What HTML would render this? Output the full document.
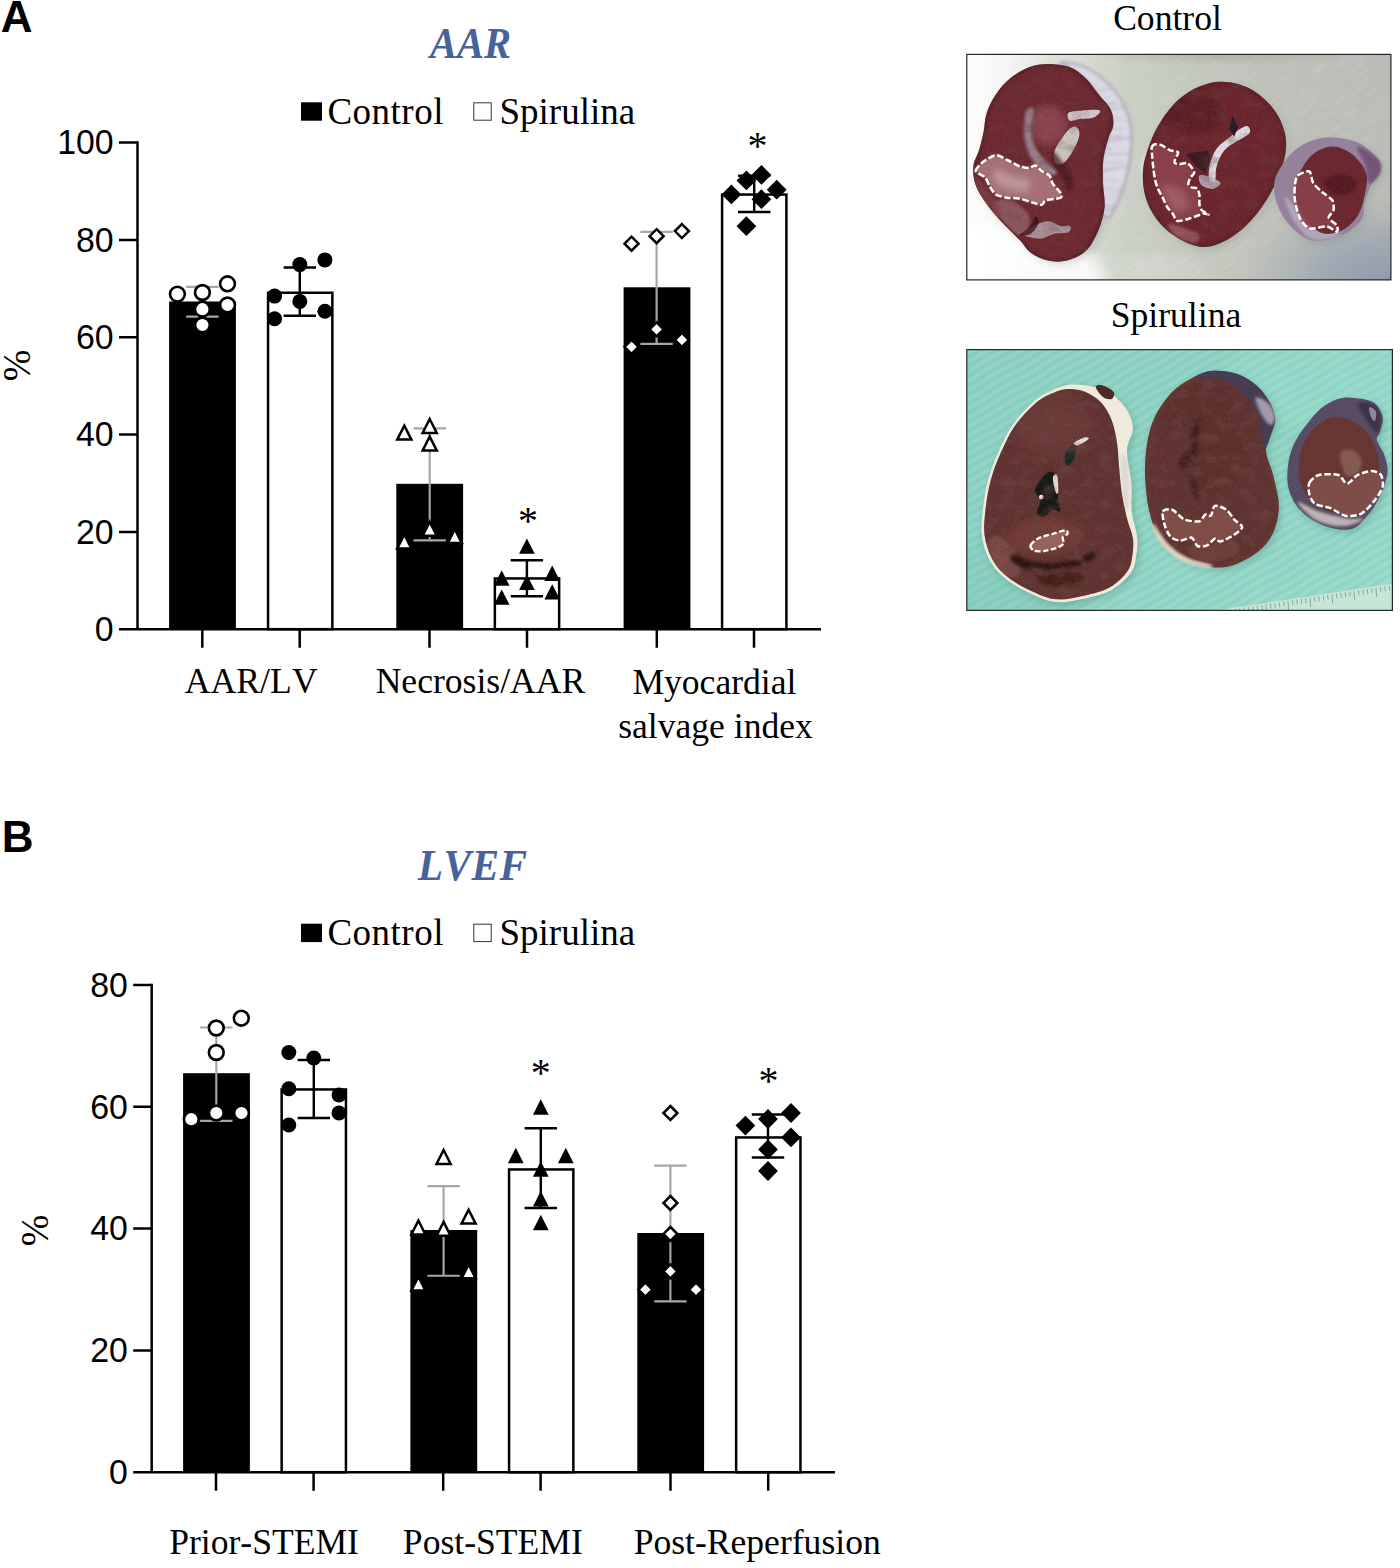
<!DOCTYPE html>
<html><head><meta charset="utf-8"><title>Figure</title>
<style>html,body{margin:0;padding:0;background:#fff}svg{display:block}text{fill:#000;font-kerning:none}</style></head><body>
<svg width="1400" height="1568" viewBox="0 0 1400 1568">
<rect width="1400" height="1568" fill="#fff"/>
<text x="0.7" y="32.2" font-family='"Liberation Sans", sans-serif' font-weight="bold" font-size="44">A</text>
<text x="1.7" y="852.2" font-family='"Liberation Sans", sans-serif' font-weight="bold" font-size="44">B</text>
<text transform="translate(470.5 57.6) scale(1 1.075)" font-family='"Liberation Serif", serif' font-size="40.6" font-weight="bold" font-style="italic" fill="#48639a" style="fill:#48639a" text-anchor="middle" letter-spacing="0">AAR</text>
<rect x="301" y="102.3" width="21" height="18.4" fill="#000"/>
<text x="327.4" y="124" font-family='"Liberation Serif", serif' font-size="37" letter-spacing="0.5">Control</text>
<rect x="473.8" y="102.8" width="17.4" height="17.4" fill="#fff" stroke="#333" stroke-width="1"/>
<text x="499.5" y="124" font-family='"Liberation Serif", serif' font-size="37" letter-spacing="0">Spirulina</text>
<text transform="translate(472.6 880.3) scale(1 1.055)" font-family='"Liberation Serif", serif' font-size="41.4" font-weight="bold" font-style="italic" fill="#48639a" style="fill:#48639a" text-anchor="middle" letter-spacing="0.4">LVEF</text>
<rect x="301" y="923.7" width="21" height="18.4" fill="#000"/>
<text x="327.4" y="945.4" font-family='"Liberation Serif", serif' font-size="37" letter-spacing="0.5">Control</text>
<rect x="473.8" y="924.2" width="17.4" height="17.4" fill="#fff" stroke="#333" stroke-width="1"/>
<text x="499.5" y="945.4" font-family='"Liberation Serif", serif' font-size="37" letter-spacing="0">Spirulina</text>
<text transform="translate(15.3 365.5) rotate(-90) scale(0.925 1)" x="0" y="14.2" font-family='"Liberation Serif", serif' font-size="41" text-anchor="middle">%</text>
<text transform="translate(34 1230.5) rotate(-90) scale(0.925 1)" x="0" y="14.2" font-family='"Liberation Serif", serif' font-size="41" text-anchor="middle">%</text>
<g id="chartA">
<path d="M137.5 141.35V629.2M119 629.2H821" fill="none" stroke="#000" stroke-width="2.5"/>
<path d="M119 531.88H137.5M119 434.56H137.5M119 337.24H137.5M119 239.92H137.5M119 142.6H137.5M202.3 629.2V647.7M299.7 629.2V647.7M429.5 629.2V647.7M527 629.2V647.7M656.8 629.2V647.7M754 629.2V647.7" fill="none" stroke="#000" stroke-width="2.5"/>
<text transform="translate(113.7 640.9) scale(0.94 1)" font-family='"Liberation Sans", sans-serif' font-size="36" text-anchor="end">0</text>
<text transform="translate(113.7 543.58) scale(0.94 1)" font-family='"Liberation Sans", sans-serif' font-size="36" text-anchor="end">20</text>
<text transform="translate(113.7 446.26) scale(0.94 1)" font-family='"Liberation Sans", sans-serif' font-size="36" text-anchor="end">40</text>
<text transform="translate(113.7 348.94) scale(0.94 1)" font-family='"Liberation Sans", sans-serif' font-size="36" text-anchor="end">60</text>
<text transform="translate(113.7 251.62) scale(0.94 1)" font-family='"Liberation Sans", sans-serif' font-size="36" text-anchor="end">80</text>
<text transform="translate(113.7 154.3) scale(0.94 1)" font-family='"Liberation Sans", sans-serif' font-size="36" text-anchor="end">100</text>
<rect x="169.1" y="301.5" width="66.8" height="327.7" fill="#000"/>
<rect x="268.05" y="292.75" width="64.3" height="336.45" fill="#fff" stroke="#000" stroke-width="2.5"/>
<rect x="396.3" y="483.8" width="66.8" height="145.4" fill="#000"/>
<rect x="494.85" y="578.45" width="64.3" height="50.75" fill="#fff" stroke="#000" stroke-width="2.5"/>
<rect x="623.6" y="287.3" width="66.8" height="341.9" fill="#000"/>
<rect x="722.1" y="194.55" width="64.3" height="434.65" fill="#fff" stroke="#000" stroke-width="2.5"/>
<path d="M186.2 286.8H218.6M186.2 316.6H218.6M202.4 286.8V316.6" fill="none" stroke="#a6a6aa" stroke-width="2.15"/>
<path d="M283.6 267.5H316M283.6 315.8H316M299.8 267.5V315.8" fill="none" stroke="#000" stroke-width="2.45"/>
<path d="M413.5 428.4H445.9M413.5 540.3H445.9M429.7 428.4V540.3" fill="none" stroke="#a6a6aa" stroke-width="2.15"/>
<path d="M510.7 560.2H543.1M510.7 596.2H543.1M526.9 560.2V596.2" fill="none" stroke="#000" stroke-width="2.45"/>
<path d="M640.4 231.9H672.8M640.4 343.9H672.8M656.6 231.9V343.9" fill="none" stroke="#a6a6aa" stroke-width="2.15"/>
<path d="M738 175.7H770.4M738 211.9H770.4M754.2 175.7V211.9" fill="none" stroke="#000" stroke-width="2.45"/>
<circle cx="177.4" cy="294.1" r="7.4" fill="#fff" stroke="#000" stroke-width="2.6"/>
<circle cx="202.4" cy="292.5" r="7.4" fill="#fff" stroke="#000" stroke-width="2.6"/>
<circle cx="227.5" cy="283.8" r="7.4" fill="#fff" stroke="#000" stroke-width="2.6"/>
<circle cx="227.5" cy="305" r="7.4" fill="#fff" stroke="#000" stroke-width="2.6"/>
<circle cx="202.4" cy="309.2" r="7.4" fill="#fff" stroke="#000" stroke-width="2.6"/>
<circle cx="202.4" cy="325" r="7.4" fill="#fff" stroke="#000" stroke-width="2.6"/>
<circle cx="299.8" cy="264.6" r="7.5" fill="#000"/>
<circle cx="324.9" cy="259.9" r="7.5" fill="#000"/>
<circle cx="274.6" cy="296.1" r="7.5" fill="#000"/>
<circle cx="299.8" cy="301.4" r="7.5" fill="#000"/>
<circle cx="324.9" cy="311.2" r="7.5" fill="#000"/>
<circle cx="274.6" cy="318.8" r="7.5" fill="#000"/>
<path d="M404.3 425.66 L411.35 439.56 L397.25 439.56 Z" fill="#fff" stroke="#000" stroke-width="2.5" stroke-linejoin="miter" stroke-miterlimit="10"/>
<path d="M429.7 419.01 L436.75 432.91 L422.65 432.91 Z" fill="#fff" stroke="#000" stroke-width="2.5" stroke-linejoin="miter" stroke-miterlimit="10"/>
<path d="M429.7 436.61 L436.75 450.51 L422.65 450.51 Z" fill="#fff" stroke="#000" stroke-width="2.5" stroke-linejoin="miter" stroke-miterlimit="10"/>
<path d="M404.3 534.51 L411.35 548.41 L397.25 548.41 Z" fill="#fff" stroke="#000" stroke-width="2.5" stroke-linejoin="miter" stroke-miterlimit="10"/>
<path d="M429.7 521.81 L436.75 535.71 L422.65 535.71 Z" fill="#fff" stroke="#000" stroke-width="2.5" stroke-linejoin="miter" stroke-miterlimit="10"/>
<path d="M454.8 529.21 L461.85 543.11 L447.75 543.11 Z" fill="#fff" stroke="#000" stroke-width="2.5" stroke-linejoin="miter" stroke-miterlimit="10"/>
<path d="M526.9 538.4 L534.75 553.8 L519.05 553.8 Z" fill="#000"/>
<path d="M501.7 570.35 L509.55 585.75 L493.85 585.75 Z" fill="#000"/>
<path d="M552.2 565.6 L560.05 581 L544.35 581 Z" fill="#000"/>
<path d="M526.9 574.7 L534.75 590.1 L519.05 590.1 Z" fill="#000"/>
<path d="M501.7 589.4 L509.55 604.8 L493.85 604.8 Z" fill="#000"/>
<path d="M552.2 584.2 L560.05 599.6 L544.35 599.6 Z" fill="#000"/>
<path d="M631.5 236.7 L638.5 243.7 L631.5 250.7 L624.5 243.7 Z" fill="#fff" stroke="#000" stroke-width="2.5" stroke-linejoin="miter"/>
<path d="M656.6 229.2 L663.6 236.2 L656.6 243.2 L649.6 236.2 Z" fill="#fff" stroke="#000" stroke-width="2.5" stroke-linejoin="miter"/>
<path d="M681.9 224.1 L688.9 231.1 L681.9 238.1 L674.9 231.1 Z" fill="#fff" stroke="#000" stroke-width="2.5" stroke-linejoin="miter"/>
<path d="M631.5 339.8 L638.5 346.8 L631.5 353.8 L624.5 346.8 Z" fill="#fff" stroke="#000" stroke-width="2.5" stroke-linejoin="miter"/>
<path d="M656.6 322.3 L663.6 329.3 L656.6 336.3 L649.6 329.3 Z" fill="#fff" stroke="#000" stroke-width="2.5" stroke-linejoin="miter"/>
<path d="M681.9 332.8 L688.9 339.8 L681.9 346.8 L674.9 339.8 Z" fill="#fff" stroke="#000" stroke-width="2.5" stroke-linejoin="miter"/>
<path d="M746.4 170.5 L756.3 180.4 L746.4 190.3 L736.5 180.4 Z" fill="#000"/>
<path d="M761.4 165 L771.3 174.9 L761.4 184.8 L751.5 174.9 Z" fill="#000"/>
<path d="M776.7 179.8 L786.6 189.7 L776.7 199.6 L766.8 189.7 Z" fill="#000"/>
<path d="M731.4 184.5 L741.3 194.4 L731.4 204.3 L721.5 194.4 Z" fill="#000"/>
<path d="M761.4 189.3 L771.3 199.2 L761.4 209.1 L751.5 199.2 Z" fill="#000"/>
<path d="M746.4 216.3 L756.3 226.2 L746.4 236.1 L736.5 226.2 Z" fill="#000"/>
<text x="528" y="533.9" font-family='"Liberation Serif", serif' font-size="40" text-anchor="middle">*</text>
<text x="757.6" y="158.9" font-family='"Liberation Serif", serif' font-size="40" text-anchor="middle">*</text>
<text x="251.2" y="693.4" font-family='"Liberation Serif", serif' font-size="35.6" text-anchor="middle" letter-spacing="0.1">AAR/LV</text>
<text x="480.4" y="693.4" font-family='"Liberation Serif", serif' font-size="35.6" text-anchor="middle" letter-spacing="0">Necrosis/AAR</text>
<text x="714.4" y="693.6" font-family='"Liberation Serif", serif' font-size="35.6" text-anchor="middle" letter-spacing="0">Myocardial</text>
<text x="715.5" y="737.8" font-family='"Liberation Serif", serif' font-size="35.6" text-anchor="middle" letter-spacing="0">salvage index</text>
</g>
<g id="chartB">
<path d="M151.7 983.75V1472.2M133.2 1472.2H835" fill="none" stroke="#000" stroke-width="2.5"/>
<path d="M133.2 1350.4H151.7M133.2 1228.6H151.7M133.2 1106.8H151.7M133.2 985H151.7M216 1472.2V1490.7M313.6 1472.2V1490.7M443.2 1472.2V1490.7M540.6 1472.2V1490.7M670.5 1472.2V1490.7M768.2 1472.2V1490.7" fill="none" stroke="#000" stroke-width="2.5"/>
<text transform="translate(127.9 1483.9) scale(0.94 1)" font-family='"Liberation Sans", sans-serif' font-size="36" text-anchor="end">0</text>
<text transform="translate(127.9 1362.1) scale(0.94 1)" font-family='"Liberation Sans", sans-serif' font-size="36" text-anchor="end">20</text>
<text transform="translate(127.9 1240.3) scale(0.94 1)" font-family='"Liberation Sans", sans-serif' font-size="36" text-anchor="end">40</text>
<text transform="translate(127.9 1118.5) scale(0.94 1)" font-family='"Liberation Sans", sans-serif' font-size="36" text-anchor="end">60</text>
<text transform="translate(127.9 996.7) scale(0.94 1)" font-family='"Liberation Sans", sans-serif' font-size="36" text-anchor="end">80</text>
<rect x="183.1" y="1073.2" width="66.8" height="399" fill="#000"/>
<rect x="281.65" y="1089.45" width="64.3" height="382.75" fill="#fff" stroke="#000" stroke-width="2.5"/>
<rect x="410.4" y="1230" width="66.8" height="242.2" fill="#000"/>
<rect x="509.05" y="1169.45" width="64.3" height="302.75" fill="#fff" stroke="#000" stroke-width="2.5"/>
<rect x="637.3" y="1233" width="66.8" height="239.2" fill="#000"/>
<rect x="736.15" y="1137.45" width="64.3" height="334.75" fill="#fff" stroke="#000" stroke-width="2.5"/>
<path d="M200.1 1027.5H232.5M200.1 1120.8H232.5M216.3 1027.5V1120.8" fill="none" stroke="#a6a6aa" stroke-width="2.15"/>
<path d="M297.6 1060H330M297.6 1118H330M313.8 1060V1118" fill="none" stroke="#000" stroke-width="2.45"/>
<path d="M427.4 1186.1H459.8M427.4 1275.7H459.8M443.6 1186.1V1275.7" fill="none" stroke="#a6a6aa" stroke-width="2.15"/>
<path d="M524.6 1128.2H557M524.6 1208H557M540.8 1128.2V1208" fill="none" stroke="#000" stroke-width="2.45"/>
<path d="M654.2 1165.6H686.6M654.2 1301.4H686.6M670.4 1165.6V1301.4" fill="none" stroke="#a6a6aa" stroke-width="2.15"/>
<path d="M751.8 1114.4H784.2M751.8 1157.4H784.2M768 1114.4V1157.4" fill="none" stroke="#000" stroke-width="2.45"/>
<circle cx="216.3" cy="1028" r="7.4" fill="#fff" stroke="#000" stroke-width="2.6"/>
<circle cx="241.3" cy="1018.2" r="7.4" fill="#fff" stroke="#000" stroke-width="2.6"/>
<circle cx="216.3" cy="1052.5" r="7.4" fill="#fff" stroke="#000" stroke-width="2.6"/>
<circle cx="191.3" cy="1119.2" r="7.4" fill="#fff" stroke="#000" stroke-width="2.6"/>
<circle cx="216.3" cy="1113" r="7.4" fill="#fff" stroke="#000" stroke-width="2.6"/>
<circle cx="241.5" cy="1113" r="7.4" fill="#fff" stroke="#000" stroke-width="2.6"/>
<circle cx="288.8" cy="1052.5" r="7.5" fill="#000"/>
<circle cx="313.8" cy="1058" r="7.5" fill="#000"/>
<circle cx="288.8" cy="1088.8" r="7.5" fill="#000"/>
<circle cx="339" cy="1095" r="7.5" fill="#000"/>
<circle cx="339" cy="1113" r="7.5" fill="#000"/>
<circle cx="288.8" cy="1125" r="7.5" fill="#000"/>
<path d="M443.6 1150.01 L450.65 1163.91 L436.55 1163.91 Z" fill="#fff" stroke="#000" stroke-width="2.5" stroke-linejoin="miter" stroke-miterlimit="10"/>
<path d="M468.6 1209.71 L475.65 1223.61 L461.55 1223.61 Z" fill="#fff" stroke="#000" stroke-width="2.5" stroke-linejoin="miter" stroke-miterlimit="10"/>
<path d="M418.4 1220.61 L425.45 1234.51 L411.35 1234.51 Z" fill="#fff" stroke="#000" stroke-width="2.5" stroke-linejoin="miter" stroke-miterlimit="10"/>
<path d="M443.6 1221.91 L450.65 1235.81 L436.55 1235.81 Z" fill="#fff" stroke="#000" stroke-width="2.5" stroke-linejoin="miter" stroke-miterlimit="10"/>
<path d="M468.6 1264.41 L475.65 1278.31 L461.55 1278.31 Z" fill="#fff" stroke="#000" stroke-width="2.5" stroke-linejoin="miter" stroke-miterlimit="10"/>
<path d="M418.4 1276.71 L425.45 1290.61 L411.35 1290.61 Z" fill="#fff" stroke="#000" stroke-width="2.5" stroke-linejoin="miter" stroke-miterlimit="10"/>
<path d="M540.8 1099.3 L548.65 1114.7 L532.95 1114.7 Z" fill="#000"/>
<path d="M515.8 1147.8 L523.65 1163.2 L507.95 1163.2 Z" fill="#000"/>
<path d="M565.8 1147.8 L573.65 1163.2 L557.95 1163.2 Z" fill="#000"/>
<path d="M540.8 1161.3 L548.65 1176.7 L532.95 1176.7 Z" fill="#000"/>
<path d="M540.8 1191.1 L548.65 1206.5 L532.95 1206.5 Z" fill="#000"/>
<path d="M540.8 1214.8 L548.65 1230.2 L532.95 1230.2 Z" fill="#000"/>
<path d="M670.4 1106 L677.4 1113 L670.4 1120 L663.4 1113 Z" fill="#fff" stroke="#000" stroke-width="2.5" stroke-linejoin="miter"/>
<path d="M670.4 1196 L677.4 1203 L670.4 1210 L663.4 1203 Z" fill="#fff" stroke="#000" stroke-width="2.5" stroke-linejoin="miter"/>
<path d="M670.4 1227 L677.4 1234 L670.4 1241 L663.4 1234 Z" fill="#fff" stroke="#000" stroke-width="2.5" stroke-linejoin="miter"/>
<path d="M670.4 1264.4 L677.4 1271.4 L670.4 1278.4 L663.4 1271.4 Z" fill="#fff" stroke="#000" stroke-width="2.5" stroke-linejoin="miter"/>
<path d="M645.4 1282.6 L652.4 1289.6 L645.4 1296.6 L638.4 1289.6 Z" fill="#fff" stroke="#000" stroke-width="2.5" stroke-linejoin="miter"/>
<path d="M696 1282.6 L703 1289.6 L696 1296.6 L689 1289.6 Z" fill="#fff" stroke="#000" stroke-width="2.5" stroke-linejoin="miter"/>
<path d="M745.4 1115.7 L755.3 1125.6 L745.4 1135.5 L735.5 1125.6 Z" fill="#000"/>
<path d="M768 1109.1 L777.9 1119 L768 1128.9 L758.1 1119 Z" fill="#000"/>
<path d="M791 1103.1 L800.9 1113 L791 1122.9 L781.1 1113 Z" fill="#000"/>
<path d="M791 1127.5 L800.9 1137.4 L791 1147.3 L781.1 1137.4 Z" fill="#000"/>
<path d="M768 1139.5 L777.9 1149.4 L768 1159.3 L758.1 1149.4 Z" fill="#000"/>
<path d="M768 1161.1 L777.9 1171 L768 1180.9 L758.1 1171 Z" fill="#000"/>
<text x="540.8" y="1086.4" font-family='"Liberation Serif", serif' font-size="40" text-anchor="middle">*</text>
<text x="768.6" y="1093.9" font-family='"Liberation Serif", serif' font-size="40" text-anchor="middle">*</text>
<text x="264" y="1554.4" font-family='"Liberation Serif", serif' font-size="35.6" text-anchor="middle" letter-spacing="0">Prior-STEMI</text>
<text x="492.8" y="1554.4" font-family='"Liberation Serif", serif' font-size="35.6" text-anchor="middle" letter-spacing="0">Post-STEMI</text>
<text x="757.2" y="1554.4" font-family='"Liberation Serif", serif' font-size="35.6" text-anchor="middle" letter-spacing="0">Post-Reperfusion</text>
</g>
<text x="1167.5" y="30.2" font-family='"Liberation Serif", serif' font-size="35.6" text-anchor="middle" letter-spacing="0">Control</text>
<text x="1176" y="326.8" font-family='"Liberation Serif", serif' font-size="35.6" text-anchor="middle" letter-spacing="0">Spirulina</text>
<defs><clipPath id="cpC"><rect x="966.8" y="54.4" width="424.1" height="225.5"/></clipPath><linearGradient id="cbg" x1="0" y1="0" x2="1" y2="0"><stop offset="0" stop-color="#fdfdfc"/><stop offset="0.09" stop-color="#f6f7f4"/><stop offset="0.2" stop-color="#e0e3dc"/><stop offset="0.38" stop-color="#c9cfc4"/><stop offset="0.7" stop-color="#bec1b9"/><stop offset="1" stop-color="#b9bcb6"/></linearGradient><radialGradient id="cbl" cx="0.5" cy="0.5" r="0.5"><stop offset="0" stop-color="#8a96aa" stop-opacity="1"/><stop offset="0.5" stop-color="#97a1b0" stop-opacity="0.75"/><stop offset="1" stop-color="#a5adb6" stop-opacity="0"/></radialGradient><radialGradient id="chl" cx="0.5" cy="0.5" r="0.5"><stop offset="0" stop-color="#e0e0dc" stop-opacity="0.9"/><stop offset="1" stop-color="#e0e0dc" stop-opacity="0"/></radialGradient><radialGradient id="cdk" cx="0.5" cy="0.5" r="0.5"><stop offset="0" stop-color="#8c8e8a" stop-opacity="0.8"/><stop offset="1" stop-color="#8c8e8a" stop-opacity="0"/></radialGradient><filter id="b1" x="-20%" y="-20%" width="140%" height="140%"><feGaussianBlur stdDeviation="0.7"/></filter><filter id="b2" x="-20%" y="-20%" width="140%" height="140%"><feGaussianBlur stdDeviation="1.6"/></filter><filter id="b4" x="-30%" y="-30%" width="160%" height="160%"><feGaussianBlur stdDeviation="3.5"/></filter><filter id="b8" x="-40%" y="-40%" width="180%" height="180%"><feGaussianBlur stdDeviation="7"/></filter><filter id="nzC" x="0" y="0" width="100%" height="100%"><feTurbulence type="fractalNoise" baseFrequency="0.05 0.35" numOctaves="2" seed="4"/><feColorMatrix type="matrix" values="0 0 0 0 1  0 0 0 0 1  0 0 0 0 0.95  0.9 0 0 0 -0.38"/></filter><filter id="mot" x="0" y="0" width="100%" height="100%"><feTurbulence type="fractalNoise" baseFrequency="0.07 0.09" numOctaves="3" seed="11"/><feColorMatrix type="matrix" values="0 0 0 0 0.16  0 0 0 0 0.06  0 0 0 0 0.06  2.6 0 0 0 -1.15"/></filter><filter id="grain" x="0" y="0" width="100%" height="100%"><feTurbulence type="fractalNoise" baseFrequency="0.9" numOctaves="2" seed="3"/><feColorMatrix type="matrix" values="0 0 0 0 1  0 0 0 0 1  0 0 0 0 1  1.6 0 0 0 -0.75"/></filter><filter id="nzR" x="0" y="0" width="100%" height="100%"><feTurbulence type="fractalNoise" baseFrequency="0.7" numOctaves="2" seed="9"/><feColorMatrix type="matrix" values="0 0 0 0 0  0 0 0 0 0  0 0 0 0 0  0 0 0 1.2 -0.45"/></filter></defs>
<g clip-path="url(#cpC)">
<rect x="966.8" y="54.4" width="424.1" height="225.5" fill="url(#cbg)"/>
<ellipse cx="1392" cy="290" rx="150" ry="95" fill="url(#cbl)"/>
<ellipse cx="985" cy="280" rx="120" ry="55" fill="#fff" opacity="0.85" filter="url(#b8)"/>
<ellipse cx="1150" cy="270" rx="70" ry="25" fill="url(#chl)" opacity="0.5"/>
<ellipse cx="1220" cy="56" rx="130" ry="10" fill="url(#cdk)" opacity="0.45"/>
<rect x="966.8" y="54.4" width="424.1" height="225.5" filter="url(#nzC)" opacity="0.3" transform="rotate(-35 1180 167)"/>
<path d="M1048 64.1C1054.8 64.1 1063.7 64.9 1070 67.3C1076.3 69.6 1081 73.8 1085.7 78.3C1090.4 82.7 1094.1 88.8 1098.3 94C1102.5 99.2 1108.4 104.5 1110.8 109.7C1113.3 114.9 1113.6 120.7 1113.2 125.4C1112.8 130.1 1110.1 132.2 1108.5 138C1106.8 143.8 1104.2 152.4 1103.3 160C1102.4 167.6 1102.8 175.7 1103 183.6C1103.2 191.4 1105.3 199.3 1104.6 207.1C1103.8 215 1101.4 223.4 1098.3 230.7C1095.1 238 1090.9 246.2 1085.7 251.1C1080.5 256.1 1073.1 259 1066.9 260.6C1060.6 262.1 1054 261.9 1048 260.6C1042 259.2 1035.4 256.1 1030.7 252.7C1026 249.3 1024.4 245.1 1019.7 240.1C1015 235.2 1007.9 228.9 1002.4 222.8C996.9 216.8 991.2 210.3 986.7 204C982.3 197.7 977.9 191.4 975.7 185.1C973.5 178.8 972.8 172 973.4 166.3C973.9 160.5 977.2 156.3 978.9 150.6C980.6 144.8 982.3 138 983.6 131.7C984.9 125.4 984.6 119.1 986.7 112.9C988.8 106.6 992.2 99.8 996.1 94C1000.1 88.2 1004.8 82.7 1010.3 78.3C1015.8 73.8 1022.9 69.6 1029.1 67.3C1035.4 64.9 1041.2 64.1 1048 64.1Z" fill="#666" opacity="0.22" filter="url(#b4)" transform="translate(3 3)"/>
<path d="M1060.6 62.6C1061.6 61.7 1073.1 62.8 1079.4 64.9C1085.7 67 1092 70.3 1098.3 75.1C1104.6 80 1112 86.7 1117.1 94C1122.2 101.3 1126.6 110.8 1128.9 119.1C1131.3 127.5 1131.7 134.9 1131.3 144.3C1130.9 153.7 1128.7 166.5 1126.6 175.7C1124.5 184.9 1121.6 192.5 1118.7 199.3C1115.8 206.1 1112.2 215.3 1109.3 216.6C1106.4 217.9 1102.7 216.6 1101.4 207.1C1100.1 197.7 1100.1 173.6 1101.4 160C1102.7 146.4 1110.3 136.9 1109.3 125.4C1108.2 113.9 1101.2 100 1095.1 90.9C1089.1 81.7 1078.9 75.1 1073.1 70.4C1067.4 65.7 1059.5 63.5 1060.6 62.6Z" fill="#dcd9e4" filter="url(#b1)"/>
<clipPath id="cf1"><path d="M1060.6 62.6C1061.6 61.7 1073.1 62.8 1079.4 64.9C1085.7 67 1092 70.3 1098.3 75.1C1104.6 80 1112 86.7 1117.1 94C1122.2 101.3 1126.6 110.8 1128.9 119.1C1131.3 127.5 1131.7 134.9 1131.3 144.3C1130.9 153.7 1128.7 166.5 1126.6 175.7C1124.5 184.9 1121.6 192.5 1118.7 199.3C1115.8 206.1 1112.2 215.3 1109.3 216.6C1106.4 217.9 1102.7 216.6 1101.4 207.1C1100.1 197.7 1100.1 173.6 1101.4 160C1102.7 146.4 1110.3 136.9 1109.3 125.4C1108.2 113.9 1101.2 100 1095.1 90.9C1089.1 81.7 1078.9 75.1 1073.1 70.4C1067.4 65.7 1059.5 63.5 1060.6 62.6Z"/></clipPath>
<g clip-path="url(#cf1)" filter="url(#b2)" opacity="0.5"><path d="M1099.2 90.6l24.4 -4.4" stroke="#8f8aa8" stroke-width="2" opacity="0.5"/><path d="M1096.6 98.3l14.6 -1.5" stroke="#8f8aa8" stroke-width="1.3" opacity="0.4"/><path d="M1100.2 105.9l16 -3.2" stroke="#8f8aa8" stroke-width="2.1" opacity="0.9"/><path d="M1101.8 110.5l29.6 -4.6" stroke="#8f8aa8" stroke-width="2.4" opacity="0.5"/><path d="M1097.4 115.7l18.9 1.5" stroke="#8f8aa8" stroke-width="1.5" opacity="0.6"/><path d="M1102.4 123l22.8 -4.5" stroke="#8f8aa8" stroke-width="1.3" opacity="0.4"/><path d="M1102.8 129.5l19 -0.3" stroke="#8f8aa8" stroke-width="1.8" opacity="0.5"/><path d="M1103.9 136.9l17.9 -0.4" stroke="#8f8aa8" stroke-width="1.9" opacity="0.8"/><path d="M1103.3 141.6l29.7 -4.1" stroke="#8f8aa8" stroke-width="1.8" opacity="0.8"/><path d="M1097.5 148.7l14.6 0.3" stroke="#8f8aa8" stroke-width="2.3" opacity="0.6"/><path d="M1104.8 154.3l25.1 -0.2" stroke="#8f8aa8" stroke-width="2" opacity="0.6"/><path d="M1104.4 163.1l21.6 0.3" stroke="#8f8aa8" stroke-width="1.3" opacity="0.7"/><path d="M1102.5 169.6l27.2 -2.7" stroke="#8f8aa8" stroke-width="1.7" opacity="0.7"/><path d="M1096.2 173.7l16.7 -4.1" stroke="#8f8aa8" stroke-width="1.3" opacity="0.8"/><path d="M1097.3 179.2l20.3 2" stroke="#8f8aa8" stroke-width="1.3" opacity="0.6"/><path d="M1101.5 188l27.1 1.9" stroke="#8f8aa8" stroke-width="1.6" opacity="0.5"/><path d="M1099.6 194.3l29.3 -3.8" stroke="#8f8aa8" stroke-width="1.4" opacity="0.4"/><path d="M1098.3 199l23.4 -2.9" stroke="#8f8aa8" stroke-width="1.2" opacity="0.6"/><path d="M1099.7 205.7l29.2 0.5" stroke="#8f8aa8" stroke-width="1.9" opacity="0.7"/><path d="M1102.8 209.9l28.4 1.2" stroke="#8f8aa8" stroke-width="2.4" opacity="0.8"/></g>
<path d="M1060.6 62.6C1061.6 61.7 1073.1 62.8 1079.4 64.9C1085.7 67 1092 70.3 1098.3 75.1C1104.6 80 1112 86.7 1117.1 94C1122.2 101.3 1126.6 110.8 1128.9 119.1C1131.3 127.5 1131.7 134.9 1131.3 144.3C1130.9 153.7 1128.7 166.5 1126.6 175.7C1124.5 184.9 1121.6 192.5 1118.7 199.3C1115.8 206.1 1112.2 215.3 1109.3 216.6C1106.4 217.9 1102.7 216.6 1101.4 207.1C1100.1 197.7 1100.1 173.6 1101.4 160C1102.7 146.4 1110.3 136.9 1109.3 125.4C1108.2 113.9 1101.2 100 1095.1 90.9C1089.1 81.7 1078.9 75.1 1073.1 70.4C1067.4 65.7 1059.5 63.5 1060.6 62.6Z" fill="none" stroke="#9a92ac" stroke-width="3" opacity="0.5" filter="url(#b2)"/>
<clipPath id="cs1"><path d="M1048 64.1C1054.8 64.1 1063.7 64.9 1070 67.3C1076.3 69.6 1081 73.8 1085.7 78.3C1090.4 82.7 1094.1 88.8 1098.3 94C1102.5 99.2 1108.4 104.5 1110.8 109.7C1113.3 114.9 1113.6 120.7 1113.2 125.4C1112.8 130.1 1110.1 132.2 1108.5 138C1106.8 143.8 1104.2 152.4 1103.3 160C1102.4 167.6 1102.8 175.7 1103 183.6C1103.2 191.4 1105.3 199.3 1104.6 207.1C1103.8 215 1101.4 223.4 1098.3 230.7C1095.1 238 1090.9 246.2 1085.7 251.1C1080.5 256.1 1073.1 259 1066.9 260.6C1060.6 262.1 1054 261.9 1048 260.6C1042 259.2 1035.4 256.1 1030.7 252.7C1026 249.3 1024.4 245.1 1019.7 240.1C1015 235.2 1007.9 228.9 1002.4 222.8C996.9 216.8 991.2 210.3 986.7 204C982.3 197.7 977.9 191.4 975.7 185.1C973.5 178.8 972.8 172 973.4 166.3C973.9 160.5 977.2 156.3 978.9 150.6C980.6 144.8 982.3 138 983.6 131.7C984.9 125.4 984.6 119.1 986.7 112.9C988.8 106.6 992.2 99.8 996.1 94C1000.1 88.2 1004.8 82.7 1010.3 78.3C1015.8 73.8 1022.9 69.6 1029.1 67.3C1035.4 64.9 1041.2 64.1 1048 64.1Z"/></clipPath>
<path d="M1048 64.1C1054.8 64.1 1063.7 64.9 1070 67.3C1076.3 69.6 1081 73.8 1085.7 78.3C1090.4 82.7 1094.1 88.8 1098.3 94C1102.5 99.2 1108.4 104.5 1110.8 109.7C1113.3 114.9 1113.6 120.7 1113.2 125.4C1112.8 130.1 1110.1 132.2 1108.5 138C1106.8 143.8 1104.2 152.4 1103.3 160C1102.4 167.6 1102.8 175.7 1103 183.6C1103.2 191.4 1105.3 199.3 1104.6 207.1C1103.8 215 1101.4 223.4 1098.3 230.7C1095.1 238 1090.9 246.2 1085.7 251.1C1080.5 256.1 1073.1 259 1066.9 260.6C1060.6 262.1 1054 261.9 1048 260.6C1042 259.2 1035.4 256.1 1030.7 252.7C1026 249.3 1024.4 245.1 1019.7 240.1C1015 235.2 1007.9 228.9 1002.4 222.8C996.9 216.8 991.2 210.3 986.7 204C982.3 197.7 977.9 191.4 975.7 185.1C973.5 178.8 972.8 172 973.4 166.3C973.9 160.5 977.2 156.3 978.9 150.6C980.6 144.8 982.3 138 983.6 131.7C984.9 125.4 984.6 119.1 986.7 112.9C988.8 106.6 992.2 99.8 996.1 94C1000.1 88.2 1004.8 82.7 1010.3 78.3C1015.8 73.8 1022.9 69.6 1029.1 67.3C1035.4 64.9 1041.2 64.1 1048 64.1Z" fill="#6f2a30" filter="url(#b1)"/>
<g clip-path="url(#cs1)">
<path d="M1048 64.1C1054.8 64.1 1063.7 64.9 1070 67.3C1076.3 69.6 1081 73.8 1085.7 78.3C1090.4 82.7 1094.1 88.8 1098.3 94C1102.5 99.2 1108.4 104.5 1110.8 109.7C1113.3 114.9 1113.6 120.7 1113.2 125.4C1112.8 130.1 1110.1 132.2 1108.5 138C1106.8 143.8 1104.2 152.4 1103.3 160C1102.4 167.6 1102.8 175.7 1103 183.6C1103.2 191.4 1105.3 199.3 1104.6 207.1C1103.8 215 1101.4 223.4 1098.3 230.7C1095.1 238 1090.9 246.2 1085.7 251.1C1080.5 256.1 1073.1 259 1066.9 260.6C1060.6 262.1 1054 261.9 1048 260.6C1042 259.2 1035.4 256.1 1030.7 252.7C1026 249.3 1024.4 245.1 1019.7 240.1C1015 235.2 1007.9 228.9 1002.4 222.8C996.9 216.8 991.2 210.3 986.7 204C982.3 197.7 977.9 191.4 975.7 185.1C973.5 178.8 972.8 172 973.4 166.3C973.9 160.5 977.2 156.3 978.9 150.6C980.6 144.8 982.3 138 983.6 131.7C984.9 125.4 984.6 119.1 986.7 112.9C988.8 106.6 992.2 99.8 996.1 94C1000.1 88.2 1004.8 82.7 1010.3 78.3C1015.8 73.8 1022.9 69.6 1029.1 67.3C1035.4 64.9 1041.2 64.1 1048 64.1Z" fill="none" stroke="#4a1a20" stroke-width="6" opacity="0.5" filter="url(#b2)"/>
<ellipse cx="1048" cy="125.4" rx="19" ry="20" fill="#96505a" opacity="0.8" filter="url(#b4)"/>
<path d="M1026 111.3C1027.6 106.6 1033.1 106.8 1033.9 109.7C1034.6 112.6 1030.4 122.3 1030.7 128.6C1031 134.9 1032.5 141.7 1035.4 147.4C1038.3 153.2 1044.3 158.9 1048 163.1C1051.7 167.3 1057.4 170.7 1057.4 172.6C1057.4 174.4 1052.2 176.2 1048 174.1C1043.8 172 1036.2 166 1032.3 160C1028.4 154 1025.5 146.1 1024.4 138C1023.4 129.9 1024.4 116 1026 111.3Z" fill="#a497a3" opacity="0.8" filter="url(#b2)"/>
<path d="M1076.3 127C1077.9 128 1079.9 130.9 1079.4 134.9C1078.9 138.8 1075.8 145.9 1073.1 150.6C1070.5 155.3 1066.6 161 1063.7 163.1C1060.8 165.2 1057.4 165 1055.9 163.1C1054.3 161.3 1053.2 156.3 1054.3 152.1C1055.3 147.9 1059.5 141.9 1062.1 138C1064.8 134.1 1067.6 130.4 1070 128.6C1072.4 126.7 1074.7 125.9 1076.3 127Z" fill="#cfc8c3" filter="url(#b1)"/>
<path d="M1068.4 112.9C1070.5 111.2 1077.3 110.9 1082.6 110.5C1087.8 110.1 1098 109.3 1099.8 110.5C1101.7 111.7 1097 116.1 1093.6 117.6C1090.2 119 1083.4 118.6 1079.4 119.1C1075.5 119.7 1071.8 121.8 1070 120.7C1068.2 119.7 1066.3 114.6 1068.4 112.9Z" fill="#e3dde3" filter="url(#b1)" opacity="0.9"/>
<path d="M1054.3 152.1C1055.9 152.1 1057.9 157.1 1060.6 160C1063.2 162.9 1067.9 165.2 1070 169.4C1072.1 173.6 1073.4 181.5 1073.1 185.1C1072.9 188.8 1070.5 193 1068.4 191.4C1066.3 189.8 1063.4 180.9 1060.6 175.7C1057.7 170.5 1052.2 163.9 1051.1 160C1050.1 156.1 1052.7 152.1 1054.3 152.1Z" fill="#48161c" opacity="0.7" filter="url(#b2)"/>
<path d="M996.1 200.8C999 199.3 1006.6 198.8 1011.9 200.8C1017.1 202.9 1024.7 209.2 1027.6 213.4C1030.4 217.6 1030.4 222.3 1029.1 226C1027.8 229.7 1023.6 235.7 1019.7 235.4C1015.8 235.2 1009.8 228.6 1005.6 224.4C1001.4 220.2 996.1 214.2 994.6 210.3C993 206.3 993.3 202.4 996.1 200.8Z" fill="#96606a" opacity="0.85" filter="url(#b2)"/>
<path d="M1022.9 233.8C1023.6 232 1029.7 228.1 1033.9 226C1038 223.9 1043.5 221.3 1048 221.3C1052.4 221.3 1056.9 225.2 1060.6 226C1064.2 226.8 1068.7 224.9 1070 226C1071.3 227 1071 231 1068.4 232.3C1065.8 233.6 1058.7 232.8 1054.3 233.8C1049.8 234.9 1045.9 238 1041.7 238.6C1037.5 239.1 1032.3 237.8 1029.1 237C1026 236.2 1022.1 235.7 1022.9 233.8Z" fill="#b9a3b0" opacity="0.9" filter="url(#b1)"/>
<path d="M1019.7 235.4C1019.4 234.4 1026.5 230.7 1029.1 227.6C1031.8 224.4 1033.9 217.3 1035.4 216.6C1037 215.8 1039.4 220 1038.6 222.8C1037.8 225.7 1033.9 231.8 1030.7 233.8C1027.6 235.9 1020 236.5 1019.7 235.4Z" fill="#3c0c12" opacity="0.8" filter="url(#b1)"/>
<path d="M975.7 175.7C977.9 176.5 984.1 185.9 988.3 191.4C992.5 196.9 999.5 204.5 1000.9 208.7C1002.2 212.9 999 217.9 996.1 216.6C993.3 215.3 987.1 205.8 983.6 200.8C980 195.9 976.2 190.9 974.9 186.7C973.6 182.5 973.5 174.9 975.7 175.7Z" fill="#85434c" opacity="0.7" filter="url(#b2)"/>
<rect x="970" y="58" width="165" height="210" filter="url(#mot)" opacity="0.35"/>
<rect x="970" y="58" width="165" height="210" filter="url(#nzR)" opacity="0.22"/>
</g>
<path d="M975.7 171C975.5 168.4 980.2 164.2 983.6 161.6C987 158.9 992.2 155.5 996.1 155.3C1000.1 155 1003.2 158.2 1007.1 160C1011.1 161.8 1016 165 1019.7 166.3C1023.4 167.6 1026.5 168 1029.1 167.9C1031.8 167.7 1033.3 165 1035.4 165.5C1037.5 166 1039.4 169.3 1041.7 171C1044.1 172.7 1047.7 173.6 1049.6 175.7C1051.4 177.8 1050.9 180.7 1052.7 183.6C1054.5 186.4 1059.3 190.6 1060.6 193C1061.9 195.3 1062.1 196.7 1060.6 197.7C1059 198.8 1053.8 198.8 1051.1 199.3C1048.5 199.8 1046.4 199.9 1044.9 200.8C1043.3 201.8 1043.8 204.5 1041.7 204.8C1039.6 205 1035.9 203.5 1032.3 202.4C1028.6 201.4 1023.9 199.3 1019.7 198.5C1015.5 197.7 1011.1 198.4 1007.1 197.7C1003.2 197.1 999 196.4 996.1 194.6C993.3 192.7 991.7 189.6 989.9 186.7C988 183.8 987.5 179.9 985.1 177.3C982.8 174.7 976 173.6 975.7 171Z" fill="#a87378" opacity="0.95" filter="url(#b2)"/>
<path d="M996.1 169.4C999 168.6 1006.4 173.9 1011.9 175.7C1017.4 177.5 1026.8 177.8 1029.1 180.4C1031.5 183 1029.7 190.1 1026 191.4C1022.3 192.7 1012.4 190.1 1007.1 188.3C1001.9 186.4 996.4 183.6 994.6 180.4C992.7 177.3 993.3 170.2 996.1 169.4Z" fill="#c4a0a2" opacity="0.8" filter="url(#b4)"/>
<path d="M975.7 171C975.5 168.9 980.8 163.7 983.6 161.6C986.3 159.5 993 155.5 996.1 155.3C999.3 155.1 1004 158.5 1007.1 160C1010.3 161.5 1016.8 165.2 1019.7 166.3C1022.6 167.3 1027 168 1029.1 167.9C1031.2 167.7 1033.7 165.1 1035.4 165.5C1037.1 165.9 1039.8 169.6 1041.7 171C1043.6 172.4 1048.1 174 1049.6 175.7C1051 177.4 1051.2 181.3 1052.7 183.6C1054.2 185.9 1059.5 191.1 1060.6 193C1061.6 194.9 1061.8 196.9 1060.6 197.7C1059.3 198.5 1053.2 198.9 1051.1 199.3C1049 199.7 1046.1 200.1 1044.9 200.8C1043.6 201.6 1043.4 204.6 1041.7 204.8C1040 205 1035.2 203.3 1032.3 202.4C1029.3 201.6 1023.1 199.1 1019.7 198.5C1016.4 197.9 1010.3 198.2 1007.1 197.7C1004 197.2 998.4 196 996.1 194.6C993.8 193.1 991.3 189 989.9 186.7C988.4 184.4 987 179.4 985.1 177.3C983.3 175.2 975.9 173.1 975.7 171Z" fill="none" stroke="#fff" stroke-width="2.5" stroke-dasharray="6.6 2.6" stroke-linejoin="round"/>
<path d="M1222.6 81.8C1230.9 82.1 1241.2 84.2 1249.6 88.6C1257.9 92.9 1266.9 100.8 1272.7 107.9C1278.5 114.9 1282.2 123.3 1284.3 131C1286.4 138.7 1286.5 145.8 1285.3 154.1C1284 162.5 1280.6 172.1 1276.6 181.1C1272.6 190.1 1266.9 200.1 1261.1 208.1C1255.4 216.2 1248.6 223.6 1241.9 229.4C1235.1 235.1 1227.7 240 1220.6 242.9C1213.6 245.8 1206.8 247.7 1199.4 246.7C1192 245.8 1183.4 241.6 1176.3 237.1C1169.2 232.6 1162.1 226.5 1157 219.7C1151.9 213 1147.7 204.9 1145.4 196.6C1143.1 188.2 1142.3 178.6 1143.1 169.6C1143.9 160.6 1147.3 150.6 1150.3 142.6C1153.2 134.5 1156.2 128.4 1160.9 121.4C1165.5 114.3 1171.8 105.9 1178.2 100.1C1184.6 94.4 1192 89.7 1199.4 86.6C1206.8 83.6 1214.2 81.5 1222.6 81.8Z" fill="#666" opacity="0.2" filter="url(#b4)" transform="translate(2 3)"/>
<path d="M1141.6 158C1143.3 153.5 1149.3 145.8 1151.2 150.3C1153.1 154.8 1153.8 177.9 1153.1 185C1152.5 192.1 1149.4 194 1147.4 192.7C1145.3 191.4 1141.6 183.1 1140.6 177.3C1139.6 171.5 1139.8 162.5 1141.6 158Z" fill="#d9d4dc" filter="url(#b2)"/>
<clipPath id="cs2"><path d="M1222.6 81.8C1230.9 82.1 1241.2 84.2 1249.6 88.6C1257.9 92.9 1266.9 100.8 1272.7 107.9C1278.5 114.9 1282.2 123.3 1284.3 131C1286.4 138.7 1286.5 145.8 1285.3 154.1C1284 162.5 1280.6 172.1 1276.6 181.1C1272.6 190.1 1266.9 200.1 1261.1 208.1C1255.4 216.2 1248.6 223.6 1241.9 229.4C1235.1 235.1 1227.7 240 1220.6 242.9C1213.6 245.8 1206.8 247.7 1199.4 246.7C1192 245.8 1183.4 241.6 1176.3 237.1C1169.2 232.6 1162.1 226.5 1157 219.7C1151.9 213 1147.7 204.9 1145.4 196.6C1143.1 188.2 1142.3 178.6 1143.1 169.6C1143.9 160.6 1147.3 150.6 1150.3 142.6C1153.2 134.5 1156.2 128.4 1160.9 121.4C1165.5 114.3 1171.8 105.9 1178.2 100.1C1184.6 94.4 1192 89.7 1199.4 86.6C1206.8 83.6 1214.2 81.5 1222.6 81.8Z"/></clipPath>
<path d="M1222.6 81.8C1230.9 82.1 1241.2 84.2 1249.6 88.6C1257.9 92.9 1266.9 100.8 1272.7 107.9C1278.5 114.9 1282.2 123.3 1284.3 131C1286.4 138.7 1286.5 145.8 1285.3 154.1C1284 162.5 1280.6 172.1 1276.6 181.1C1272.6 190.1 1266.9 200.1 1261.1 208.1C1255.4 216.2 1248.6 223.6 1241.9 229.4C1235.1 235.1 1227.7 240 1220.6 242.9C1213.6 245.8 1206.8 247.7 1199.4 246.7C1192 245.8 1183.4 241.6 1176.3 237.1C1169.2 232.6 1162.1 226.5 1157 219.7C1151.9 213 1147.7 204.9 1145.4 196.6C1143.1 188.2 1142.3 178.6 1143.1 169.6C1143.9 160.6 1147.3 150.6 1150.3 142.6C1153.2 134.5 1156.2 128.4 1160.9 121.4C1165.5 114.3 1171.8 105.9 1178.2 100.1C1184.6 94.4 1192 89.7 1199.4 86.6C1206.8 83.6 1214.2 81.5 1222.6 81.8Z" fill="#6e282e" filter="url(#b1)"/>
<g clip-path="url(#cs2)">
<path d="M1222.6 81.8C1230.9 82.1 1241.2 84.2 1249.6 88.6C1257.9 92.9 1266.9 100.8 1272.7 107.9C1278.5 114.9 1282.2 123.3 1284.3 131C1286.4 138.7 1286.5 145.8 1285.3 154.1C1284 162.5 1280.6 172.1 1276.6 181.1C1272.6 190.1 1266.9 200.1 1261.1 208.1C1255.4 216.2 1248.6 223.6 1241.9 229.4C1235.1 235.1 1227.7 240 1220.6 242.9C1213.6 245.8 1206.8 247.7 1199.4 246.7C1192 245.8 1183.4 241.6 1176.3 237.1C1169.2 232.6 1162.1 226.5 1157 219.7C1151.9 213 1147.7 204.9 1145.4 196.6C1143.1 188.2 1142.3 178.6 1143.1 169.6C1143.9 160.6 1147.3 150.6 1150.3 142.6C1153.2 134.5 1156.2 128.4 1160.9 121.4C1165.5 114.3 1171.8 105.9 1178.2 100.1C1184.6 94.4 1192 89.7 1199.4 86.6C1206.8 83.6 1214.2 81.5 1222.6 81.8Z" fill="none" stroke="#4a1a20" stroke-width="5" opacity="0.45" filter="url(#b2)"/>
<ellipse cx="1193.6" cy="113.6" rx="30" ry="20" fill="#571c22" opacity="0.6" filter="url(#b4)"/>
<path d="M1247.6 126.2C1249.3 126.8 1251.2 130.5 1249.6 132.9C1248 135.3 1242.2 137.8 1238 140.6C1233.8 143.5 1228 146.1 1224.5 150.3C1221 154.5 1218.4 160.6 1216.8 165.7C1215.2 170.9 1216.1 178.9 1214.9 181.1C1213.6 183.4 1209.9 182.1 1209.1 179.2C1208.3 176.3 1208.8 168.9 1210 163.8C1211.3 158.6 1213.4 152.9 1216.8 148.4C1220.2 143.9 1226.4 140 1230.3 136.8C1234.1 133.6 1237 130.8 1239.9 129.1C1242.8 127.3 1246 125.5 1247.6 126.2Z" fill="#e6dfe6" filter="url(#b1)"/>
<path d="M1232.2 115.6L1238 127.1L1234.1 136.8L1229.3 129.1Z" fill="#2a1a22" filter="url(#b1)"/>
<path d="M1185.9 154.1L1207.1 150.3L1211 158L1205.2 173.4L1195.6 165.7Z" fill="#3a1a20" filter="url(#b1)"/>
<path d="M1199.4 175.4C1201 174.1 1207.5 176 1211 177.3C1214.5 178.6 1220.3 181.1 1220.6 183.1C1221 185 1216.1 188.5 1212.9 188.9C1209.7 189.2 1203.6 187.3 1201.4 185C1199.1 182.8 1197.8 176.6 1199.4 175.4Z" fill="#c9bfd0" opacity="0.8" filter="url(#b1)"/>
<path d="M1168.6 223.6C1170.8 222.6 1182.7 227.4 1187.9 229.4C1193 231.3 1198.5 232.9 1199.4 235.1C1200.4 237.4 1197.8 242.9 1193.6 242.9C1189.5 242.9 1178.5 238.4 1174.4 235.1C1170.2 231.9 1166.3 224.5 1168.6 223.6Z" fill="#a8666e" opacity="0.75" filter="url(#b2)"/>
<rect x="1140" y="78" width="150" height="175" filter="url(#mot)" opacity="0.35"/>
<rect x="1140" y="78" width="150" height="175" filter="url(#nzR)" opacity="0.22"/>
</g>
<path d="M1151.7 147.5C1152.2 145.3 1153.6 144.7 1155.2 144.3C1156.8 143.9 1159 144.2 1161.5 145.2C1164 146.2 1167.3 149.1 1170.1 150.3C1172.9 151.5 1177.2 150.9 1178.1 152.3C1179 153.7 1175.9 157.1 1175.3 158.9C1174.7 160.7 1174 162.1 1174.7 163C1175.5 163.9 1177.8 164.1 1179.8 164.1C1181.8 164.1 1184.8 162.5 1186.7 163C1188.6 163.5 1190 165.4 1191.3 167C1192.5 168.6 1194.4 170.9 1194.2 172.7C1194 174.5 1191.2 176 1190.2 177.9C1189.2 179.8 1188.1 182.6 1188.3 184.2C1188.5 185.8 1190 186.8 1191.5 187.5C1193 188.2 1195.8 187.3 1197.1 188.6C1198.4 189.9 1199 192.5 1199.4 195.1C1199.8 197.7 1199 201.8 1199.4 204.3C1199.8 206.8 1200.1 208.3 1201.6 210C1203.1 211.7 1208.2 213.8 1208.5 214.4C1208.8 215 1205.3 213.3 1203.4 213.5C1201.5 213.7 1199.8 214.9 1197.1 215.8C1194.4 216.8 1190.6 218.3 1187.3 219.2C1184 220 1179.4 221.8 1177 220.9C1174.6 220 1174.6 216.3 1173 214C1171.4 211.7 1168.9 209.9 1167.2 207.1C1165.5 204.3 1164.1 200.4 1162.6 197.4C1161.1 194.4 1159.2 191.7 1158 188.8C1156.8 185.9 1156 183.5 1155.2 180.2C1154.4 176.8 1153.9 172.5 1153.4 168.7C1152.9 164.9 1152.6 160.7 1152.3 157.2C1152 153.7 1151.2 149.7 1151.7 147.5Z" fill="#8c4249" opacity="0.9" filter="url(#b2)"/>
<path d="M1162.8 185C1165 183.1 1175.6 185.6 1180.1 188.9C1184.6 192.1 1190.1 200.4 1189.8 204.3C1189.5 208.1 1182.1 212.6 1178.2 212C1174.4 211.4 1169.2 204.9 1166.6 200.4C1164.1 195.9 1160.5 186.9 1162.8 185Z" fill="#a8686e" opacity="0.7" filter="url(#b4)"/>
<path d="M1151.7 147.5C1152.1 145.8 1153.9 144.6 1155.2 144.3C1156.5 144 1159.5 144.4 1161.5 145.2C1163.5 146 1167.9 149.4 1170.1 150.3C1172.3 151.2 1177.4 151.2 1178.1 152.3C1178.8 153.4 1175.8 157.5 1175.3 158.9C1174.8 160.3 1174.1 162.3 1174.7 163C1175.3 163.7 1178.2 164.1 1179.8 164.1C1181.4 164.1 1185.2 162.6 1186.7 163C1188.2 163.4 1190.3 165.7 1191.3 167C1192.3 168.3 1194.3 171.2 1194.2 172.7C1194.1 174.2 1191 176.4 1190.2 177.9C1189.4 179.4 1188.1 182.9 1188.3 184.2C1188.5 185.5 1190.3 186.9 1191.5 187.5C1192.7 188.1 1196 187.6 1197.1 188.6C1198.2 189.6 1199.1 193 1199.4 195.1C1199.7 197.2 1199.1 202.3 1199.4 204.3C1199.7 206.3 1200.4 208.7 1201.6 210C1202.8 211.3 1208.3 213.9 1208.5 214.4C1208.7 214.9 1204.9 213.3 1203.4 213.5C1201.9 213.7 1199.2 215 1197.1 215.8C1195 216.6 1190 218.5 1187.3 219.2C1184.6 219.9 1178.9 221.6 1177 220.9C1175.1 220.2 1174.3 215.8 1173 214C1171.7 212.2 1168.6 209.3 1167.2 207.1C1165.8 204.9 1163.8 199.8 1162.6 197.4C1161.4 195 1159 191.1 1158 188.8C1157 186.5 1155.8 182.9 1155.2 180.2C1154.6 177.5 1153.8 171.8 1153.4 168.7C1153 165.6 1152.5 160 1152.3 157.2C1152.1 154.4 1151.3 149.2 1151.7 147.5Z" fill="none" stroke="#fff" stroke-width="2.5" stroke-dasharray="6.6 2.6" stroke-linejoin="round"/>
<path d="M1322.9 137.8C1330.3 136.5 1337.7 137.6 1344.1 138.7C1350.5 139.8 1355.7 141 1361.4 144.5C1367.2 148 1375.7 155.1 1378.8 159.9C1381.8 164.8 1381 169.3 1379.8 173.4C1378.5 177.6 1373.7 179.9 1371.1 185C1368.5 190.1 1365.9 198.5 1364.3 204.3C1362.7 210.1 1365.1 214.6 1361.4 219.7C1357.7 224.9 1350.2 231.6 1342.2 235.1C1334.1 238.7 1321.9 242.5 1313.2 240.9C1304.5 239.3 1296.2 231.9 1290.1 225.5C1284 219.1 1279.1 209.8 1276.6 202.4C1274 195 1273.4 187.9 1274.6 181.1C1275.9 174.4 1280.1 167.6 1284.3 161.9C1288.5 156.1 1293.3 150.5 1299.7 146.4C1306.1 142.4 1315.5 139 1322.9 137.8Z" fill="#666" opacity="0.2" filter="url(#b4)" transform="translate(2 3)"/>
<path d="M1322.9 137.8C1330.3 136.5 1337.7 137.6 1344.1 138.7C1350.5 139.8 1355.7 141 1361.4 144.5C1367.2 148 1375.7 155.1 1378.8 159.9C1381.8 164.8 1381 169.3 1379.8 173.4C1378.5 177.6 1373.7 179.9 1371.1 185C1368.5 190.1 1365.9 198.5 1364.3 204.3C1362.7 210.1 1365.1 214.6 1361.4 219.7C1357.7 224.9 1350.2 231.6 1342.2 235.1C1334.1 238.7 1321.9 242.5 1313.2 240.9C1304.5 239.3 1296.2 231.9 1290.1 225.5C1284 219.1 1279.1 209.8 1276.6 202.4C1274 195 1273.4 187.9 1274.6 181.1C1275.9 174.4 1280.1 167.6 1284.3 161.9C1288.5 156.1 1293.3 150.5 1299.7 146.4C1306.1 142.4 1315.5 139 1322.9 137.8Z" fill="#94809a" filter="url(#b1)"/>
<path d="M1357.6 146.4C1359.8 145.5 1375.1 155.4 1378.8 159.9C1382.5 164.4 1381.4 169.6 1379.8 173.4C1378.2 177.3 1371.6 184.4 1369.2 183.1C1366.7 181.8 1367.2 171.8 1365.3 165.7C1363.4 159.6 1355.3 147.4 1357.6 146.4Z" fill="#6a4a6e" opacity="0.8" filter="url(#b2)"/>
<path d="M1284.3 196.6C1283 197.9 1290.7 216.3 1295.9 223.6C1301 230.8 1307.4 238.2 1315.1 240C1322.9 241.7 1340.9 236 1342.2 234.2C1343.4 232.4 1329.3 232.4 1322.9 229.4C1316.4 226.3 1310 221.3 1303.6 215.9C1297.1 210.4 1285.6 195.3 1284.3 196.6Z" fill="#b9afc0" opacity="0.8" filter="url(#b2)"/>
<path d="M1332.5 146.4C1338.9 146.4 1346.2 149.6 1351.8 154.1C1357.4 158.6 1364.2 166.4 1366.3 173.4C1368.3 180.5 1365.8 189.5 1364.3 196.6C1362.9 203.6 1361.3 210.2 1357.6 215.9C1353.9 221.5 1347.9 227.4 1342.2 230.3C1336.4 233.2 1329 235 1322.9 233.2C1316.8 231.5 1310 225.5 1305.5 219.7C1301 213.9 1296.8 206.2 1295.9 198.5C1294.9 190.8 1296.8 180.8 1299.7 173.4C1302.6 166 1307.8 158.6 1313.2 154.1C1318.7 149.6 1326.1 146.4 1332.5 146.4Z" fill="#6a262d" filter="url(#b1)"/>
<path d="M1322.9 181.1C1324.1 177.6 1336.4 173.4 1342.2 173.4C1347.9 173.4 1356 177.9 1357.6 181.1C1359.2 184.4 1355.7 190.5 1351.8 192.7C1347.9 195 1339.3 196.6 1334.4 194.6C1329.6 192.7 1321.6 184.7 1322.9 181.1Z" fill="#4e181f" opacity="0.7" filter="url(#b2)"/>
<path d="M1297.8 175.4C1300.2 173.1 1306.8 170.2 1309.4 171.5C1311.9 172.8 1311 179.5 1313.2 183.1C1315.5 186.6 1319.6 189.8 1322.9 192.7C1326.1 195.6 1330.7 197.5 1332.5 200.4C1334.3 203.3 1334.1 207.2 1333.5 210.1C1332.8 213 1328.1 215.2 1328.6 217.8C1329.2 220.4 1335.4 223.2 1336.8 225.5C1338.1 227.8 1338.4 231.5 1336.8 231.7C1335.1 231.8 1331.3 227 1326.7 226.5C1322.2 225.9 1313.9 229.8 1309.4 228.4C1304.9 227 1302.1 222.5 1299.7 217.8C1297.3 213.1 1295.7 205.9 1294.9 200.4C1294.1 195 1294.4 189.2 1294.9 185C1295.4 180.8 1295.4 177.6 1297.8 175.4Z" fill="#8a3f48" opacity="0.9" filter="url(#b2)"/>
<path d="M1297.8 175.4C1299.7 173.6 1307.3 170.5 1309.4 171.5C1311.4 172.5 1311.4 180.2 1313.2 183.1C1315 185.9 1320.3 190.4 1322.9 192.7C1325.4 195 1331.1 198.1 1332.5 200.4C1333.9 202.7 1334 207.8 1333.5 210.1C1333 212.4 1328.2 215.7 1328.6 217.8C1329.1 219.8 1335.7 223.7 1336.8 225.5C1337.8 227.4 1338.1 231.5 1336.8 231.7C1335.4 231.8 1330.4 226.9 1326.7 226.5C1323.1 226 1313 229.6 1309.4 228.4C1305.8 227.2 1301.6 221.5 1299.7 217.8C1297.8 214.1 1295.5 204.8 1294.9 200.4C1294.3 196.1 1294.5 188.3 1294.9 185C1295.3 181.7 1295.9 177.2 1297.8 175.4Z" fill="none" stroke="#fff" stroke-width="2.5" stroke-dasharray="6.6 2.6" stroke-linejoin="round"/>
<rect x="966.8" y="54.4" width="424.1" height="225.5" filter="url(#grain)" opacity="0.10"/>
</g>
<rect x="966.8" y="54.4" width="424.1" height="225.5" fill="none" stroke="#262626" stroke-width="1.2"/>
<defs><clipPath id="cpS"><rect x="966.8" y="349.6" width="425.6" height="260.8"/></clipPath><linearGradient id="sbg" x1="0" y1="0" x2="1" y2="1"><stop offset="0" stop-color="#8acfc0"/><stop offset="0.5" stop-color="#8dd2c3"/><stop offset="1" stop-color="#97dacb"/></linearGradient><pattern id="stripe" width="60" height="8" patternUnits="userSpaceOnUse" patternTransform="rotate(-30)"><path d="M0 1.5 Q15 0 30 1.5 T60 1.5" fill="none" stroke="#6fb5a5" stroke-width="2.4" opacity="0.3"/><path d="M0 5.6 Q15 4.4 30 5.6 T60 5.6" fill="none" stroke="#b8efe0" stroke-width="2.4" opacity="0.3"/></pattern></defs>
<g clip-path="url(#cpS)">
<rect x="966.8" y="349.6" width="425.6" height="260.8" fill="url(#sbg)"/>
<rect x="966.8" y="349.6" width="425.6" height="260.8" fill="url(#stripe)" filter="url(#b2)"/>
<ellipse cx="1000" cy="590" rx="90" ry="50" fill="#7cc3b2" opacity="0.3" filter="url(#b8)"/>
<ellipse cx="1330" cy="380" rx="110" ry="50" fill="#a5e8d6" opacity="0.25" filter="url(#b8)"/>
<path d="M1212 611 L1393 583.5 L1393 611Z" fill="#c6e6d8" filter="url(#b1)"/>
<path d="M1222 611l0.6 9M1226.4 610.3l0.6 5M1230.8 609.6l0.6 5M1235.2 609l0.6 5M1239.6 608.3l0.6 5M1244 607.6l0.6 9M1248.4 607l0.6 5M1252.8 606.3l0.6 5M1257.2 605.6l0.6 5M1261.6 605l0.6 5M1266 604.3l0.6 9M1270.4 603.6l0.6 5M1274.8 603l0.6 5M1279.2 602.3l0.6 5M1283.6 601.6l0.6 5M1288 600.9l0.6 9M1292.4 600.3l0.6 5M1296.8 599.6l0.6 5M1301.2 598.9l0.6 5M1305.6 598.3l0.6 5M1310 597.6l0.6 9M1314.4 596.9l0.6 5M1318.8 596.3l0.6 5M1323.2 595.6l0.6 5M1327.6 594.9l0.6 5M1332 594.3l0.6 9M1336.4 593.6l0.6 5M1340.8 592.9l0.6 5M1345.2 592.3l0.6 5M1349.6 591.6l0.6 5M1354 590.9l0.6 9M1358.4 590.2l0.6 5M1362.8 589.6l0.6 5M1367.2 588.9l0.6 5M1371.6 588.2l0.6 5M1376 587.6l0.6 9M1380.4 586.9l0.6 5M1384.8 586.2l0.6 5M1389.2 585.6l0.6 5M1393.6 584.9l0.6 5" stroke="#6d8f80" stroke-width="0.9" opacity="0.8"/>
<path d="M1070.7 384.6C1077.9 384.2 1088.6 385.5 1095.7 387.3C1102.9 389.1 1108.2 391.3 1113.6 395.4C1118.9 399.4 1124.6 405.8 1127.9 411.4C1131.1 417.1 1133 422.7 1132.9 429.3C1132.7 435.8 1127.2 441.8 1127 450.7C1126.7 459.6 1130.6 472.7 1131.4 482.9C1132.2 493 1130.8 502.5 1131.8 511.4C1132.7 520.4 1136.4 529.3 1137.1 536.4C1137.9 543.6 1137.4 548.3 1136.4 554.3C1135.5 560.2 1135.5 566.2 1131.4 572.1C1127.3 578.1 1119.5 585.6 1111.8 590C1104 594.4 1094.2 596.4 1085 598.4C1075.8 600.4 1065.4 602.7 1056.4 602C1047.5 601.2 1039.8 597.6 1031.4 593.9C1023.1 590.2 1013.3 585 1006.4 579.6C999.6 574.3 994.4 569 990.4 561.8C986.3 554.6 983.2 545.1 982 536.4C980.7 527.7 981.8 519.2 982.9 509.6C983.9 500.1 985.5 489.1 988.2 479.3C990.9 469.5 994.8 459.9 998.9 450.7C1003.1 441.5 1007.3 432.3 1013.2 423.9C1019.2 415.6 1028 406.4 1034.6 400.7C1041.2 395.1 1046.8 392.7 1052.9 390C1058.9 387.3 1063.6 385.1 1070.7 384.6Z" fill="#3d7d6d" opacity="0.35" filter="url(#b4)" transform="translate(2 3)"/>
<path d="M1070.7 384.6C1077.9 384.2 1088.6 385.5 1095.7 387.3C1102.9 389.1 1108.2 391.3 1113.6 395.4C1118.9 399.4 1124.6 405.8 1127.9 411.4C1131.1 417.1 1133 422.7 1132.9 429.3C1132.7 435.8 1127.2 441.8 1127 450.7C1126.7 459.6 1130.6 472.7 1131.4 482.9C1132.2 493 1130.8 502.5 1131.8 511.4C1132.7 520.4 1136.4 529.3 1137.1 536.4C1137.9 543.6 1137.4 548.3 1136.4 554.3C1135.5 560.2 1135.5 566.2 1131.4 572.1C1127.3 578.1 1119.5 585.6 1111.8 590C1104 594.4 1094.2 596.4 1085 598.4C1075.8 600.4 1065.4 602.7 1056.4 602C1047.5 601.2 1039.8 597.6 1031.4 593.9C1023.1 590.2 1013.3 585 1006.4 579.6C999.6 574.3 994.4 569 990.4 561.8C986.3 554.6 983.2 545.1 982 536.4C980.7 527.7 981.8 519.2 982.9 509.6C983.9 500.1 985.5 489.1 988.2 479.3C990.9 469.5 994.8 459.9 998.9 450.7C1003.1 441.5 1007.3 432.3 1013.2 423.9C1019.2 415.6 1028 406.4 1034.6 400.7C1041.2 395.1 1046.8 392.7 1052.9 390C1058.9 387.3 1063.6 385.1 1070.7 384.6Z" fill="#efeadb" filter="url(#b1)"/>
<path d="M1095.7 386.8C1095.7 384.9 1099.9 384.7 1102.9 385.5C1105.8 386.4 1112.1 389.6 1113.6 391.8C1115.1 394 1113.6 398 1111.8 398.9C1110 399.8 1105.5 399.2 1102.9 397.1C1100.2 395.1 1095.7 388.7 1095.7 386.8Z" fill="#4a2a28" filter="url(#b1)"/>
<path d="M1121.6 454.3C1122.6 451.3 1126.7 457.3 1127.9 465C1129 472.7 1129.3 493 1128.8 500.7C1128.2 508.5 1125.5 514.4 1124.3 511.4C1123.1 508.5 1122.1 492.4 1121.6 482.9C1121.2 473.3 1120.6 457.3 1121.6 454.3Z" fill="#c9c5d0" opacity="0.45" filter="url(#b2)"/>
<clipPath id="csA"><path d="M1068.9 389.1C1074.2 388.9 1079.6 389.6 1085 391.8C1090.4 394 1096.6 397.7 1101.1 402.5C1105.5 407.3 1109.1 413.5 1111.8 420.4C1114.5 427.2 1116 436.1 1117.1 443.6C1118.3 451 1118.2 457 1118.9 465C1119.7 473 1120.3 482.9 1121.6 491.8C1122.9 500.7 1125.1 510.8 1127 518.6C1128.8 526.3 1132 532 1132.9 538.2C1133.8 544.5 1133.2 550.6 1132.3 556.1C1131.4 561.6 1131.2 566 1127.5 571.2C1123.8 576.5 1117.2 583.2 1110 587.3C1102.8 591.4 1093 593.7 1084.1 595.7C1075.2 597.7 1065.1 600 1056.4 599.3C1047.8 598.6 1040.4 595.1 1032.3 591.4C1024.3 587.8 1014.8 582.7 1008.2 577.5C1001.6 572.3 996.6 567 992.7 560C988.8 553 985.8 543.9 984.6 535.5C983.5 527.1 984.5 518.9 985.5 509.6C986.5 500.4 988.1 489.8 990.7 480.2C993.3 470.6 997 461.2 1001.1 452.1C1005.1 443.1 1009.2 433.9 1015 425.7C1020.8 417.5 1029.5 408.3 1035.9 402.9C1042.3 397.4 1047.7 395.1 1053.2 392.9C1058.7 390.6 1063.6 389.3 1068.9 389.1Z"/></clipPath>
<path d="M1068.9 389.1C1074.2 388.9 1079.6 389.6 1085 391.8C1090.4 394 1096.6 397.7 1101.1 402.5C1105.5 407.3 1109.1 413.5 1111.8 420.4C1114.5 427.2 1116 436.1 1117.1 443.6C1118.3 451 1118.2 457 1118.9 465C1119.7 473 1120.3 482.9 1121.6 491.8C1122.9 500.7 1125.1 510.8 1127 518.6C1128.8 526.3 1132 532 1132.9 538.2C1133.8 544.5 1133.2 550.6 1132.3 556.1C1131.4 561.6 1131.2 566 1127.5 571.2C1123.8 576.5 1117.2 583.2 1110 587.3C1102.8 591.4 1093 593.7 1084.1 595.7C1075.2 597.7 1065.1 600 1056.4 599.3C1047.8 598.6 1040.4 595.1 1032.3 591.4C1024.3 587.8 1014.8 582.7 1008.2 577.5C1001.6 572.3 996.6 567 992.7 560C988.8 553 985.8 543.9 984.6 535.5C983.5 527.1 984.5 518.9 985.5 509.6C986.5 500.4 988.1 489.8 990.7 480.2C993.3 470.6 997 461.2 1001.1 452.1C1005.1 443.1 1009.2 433.9 1015 425.7C1020.8 417.5 1029.5 408.3 1035.9 402.9C1042.3 397.4 1047.7 395.1 1053.2 392.9C1058.7 390.6 1063.6 389.3 1068.9 389.1Z" fill="#643431" filter="url(#b1)"/>
<g clip-path="url(#csA)">
<ellipse cx="1052.9" cy="425.7" rx="40" ry="30" fill="#74403c" opacity="0.7" filter="url(#b8)"/>
<path d="M1013.6 527.5C1018.3 523.9 1027.3 520.1 1035 518.6C1042.7 517.1 1051.7 516.2 1060 518.6C1068.3 521 1082.6 527.8 1085 532.9C1087.4 537.9 1080.8 545.4 1074.3 548.9C1067.7 552.5 1054.6 554 1045.7 554.3C1036.8 554.6 1027.3 553.1 1020.7 550.7C1014.2 548.3 1007.6 543.9 1006.4 540C1005.2 536.1 1008.8 531.1 1013.6 527.5Z" fill="#7a3f3a" opacity="0.9" filter="url(#b4)"/>
<path d="M988.6 540C990.1 536.7 995.1 534.6 999.3 536.4C1003.5 538.2 1010 545.4 1013.6 550.7C1017.1 556.1 1020.7 564.1 1020.7 568.6C1020.7 573 1017.1 577.2 1013.6 577.5C1010 577.8 1003.2 573.9 999.3 570.4C995.4 566.8 992.1 561.1 990.4 556.1C988.6 551 987.1 543.3 988.6 540Z" fill="#8a5650" opacity="0.8" filter="url(#b2)"/>
<path d="M1043.9 475.7C1046.9 472.7 1050.6 470.1 1052.9 472.1C1055.1 474.2 1056.4 483.5 1057.3 488.2C1058.2 493 1057.8 496.8 1058.2 500.7C1058.7 504.6 1060.9 509.9 1060 511.4C1059.1 512.9 1055.5 508.8 1052.9 509.6C1050.2 510.5 1046.6 516.2 1043.9 516.8C1041.2 517.4 1037.4 515.9 1036.8 513.2C1036.2 510.5 1040.7 504.6 1040.4 500.7C1040.1 496.8 1034.4 494.2 1035 490C1035.6 485.8 1041 478.7 1043.9 475.7Z" fill="#141c19" filter="url(#b1)"/>
<path d="M1067.1 448.9C1069.1 446.2 1074.9 443.9 1076.1 445.4C1077.3 446.8 1075.5 454.6 1074.3 457.9C1073.1 461.1 1070.6 464.4 1068.9 465C1067.3 465.6 1064.8 464.1 1064.5 461.4C1064.2 458.8 1065.2 451.6 1067.1 448.9Z" fill="#1b2b27" filter="url(#b1)"/>
<path d="M1074.3 442.7C1075.5 441.3 1082.6 437.9 1085 437.3C1087.4 436.7 1089.8 437.8 1088.6 439.1C1087.4 440.4 1080.2 444.8 1077.9 445.4C1075.5 446 1073.1 444 1074.3 442.7Z" fill="#e9e2dc" filter="url(#b1)"/>
<path d="M1052.9 477.5C1053.2 474.8 1056.4 473.3 1057.3 475.7C1058.2 478.1 1058.5 489.1 1058.2 491.8C1057.9 494.5 1056.4 494.2 1055.5 491.8C1054.6 489.4 1052.6 480.2 1052.9 477.5Z" fill="#e9e2dc" filter="url(#b1)"/>
<circle cx="1041.2" cy="497.1" r="2.3" fill="#f1e9e6" filter="url(#b1)"/>
<path d="M1011.8 554.3C1014.8 554 1024.6 559.9 1031.4 561.4C1038.3 562.9 1045.7 563.5 1052.9 563.2C1060 562.9 1067.4 561.4 1074.3 559.6C1081.1 557.9 1091 552.5 1093.9 552.5C1096.9 552.5 1095.4 557.3 1092.1 559.6C1088.9 562 1080.8 565 1074.3 566.8C1067.7 568.6 1060 569.8 1052.9 570.4C1045.7 571 1038 571.5 1031.4 570.4C1024.9 569.2 1016.8 565.9 1013.6 563.2C1010.3 560.5 1008.8 554.6 1011.8 554.3Z" fill="#26100e" opacity="0.85" filter="url(#b2)"/>
<path d="M1036.8 572.1C1040.7 570.1 1059.1 571.5 1067.1 572.1C1075.2 572.7 1085 573.3 1085 575.7C1085 578.1 1074 584.9 1067.1 586.4C1060.3 587.9 1049 587 1043.9 584.6C1038.9 582.3 1032.9 574.2 1036.8 572.1Z" fill="#38140f" opacity="0.6" filter="url(#b2)"/>
<rect x="980" y="385" width="160" height="220" filter="url(#mot)" opacity="0.7"/>
<rect x="980" y="385" width="160" height="220" filter="url(#nzR)" opacity="0.25"/>
</g>
<path d="M1030.5 545.4C1031.3 543.3 1034.9 540.1 1038.6 538.2C1042.3 536.3 1048.4 535.1 1052.9 533.8C1057.3 532.4 1062.9 530.2 1065.4 530.2C1067.8 530.2 1068.1 532.6 1067.7 533.8C1067.2 534.9 1063.4 535.7 1062.7 537.3C1062 539 1064.6 541.8 1063.6 543.6C1062.5 545.4 1059.7 546.8 1056.4 548C1053.2 549.3 1047.6 550.6 1043.9 551.1C1040.2 551.5 1036.3 551.7 1034.1 550.7C1031.9 549.8 1029.8 547.4 1030.5 545.4Z" fill="#9a6660" opacity="0.9" filter="url(#b1)"/>
<path d="M1030.5 545.4C1031.1 543.7 1035.6 539.8 1038.6 538.2C1041.5 536.7 1049.3 534.8 1052.9 533.8C1056.4 532.7 1063.4 530.2 1065.4 530.2C1067.3 530.2 1068 532.8 1067.7 533.8C1067.3 534.7 1063.2 536 1062.7 537.3C1062.1 538.6 1064.4 542.1 1063.6 543.6C1062.7 545 1059 547 1056.4 548C1053.8 549 1046.9 550.7 1043.9 551.1C1041 551.4 1035.9 551.5 1034.1 550.7C1032.3 550 1029.9 547 1030.5 545.4Z" fill="none" stroke="#fff" stroke-width="2.3" stroke-dasharray="5.6 2.5" stroke-linejoin="round"/>
<path d="M1211 370.9C1218.7 370.2 1229.6 371.1 1238 374.3C1246.4 377.5 1255 383 1261.1 390.1C1267.3 397.3 1274.2 407.5 1275 417.1C1275.8 426.8 1266.3 438.4 1266 448C1265.6 457.6 1271 465.4 1273.1 475C1275.3 484.6 1278.9 496.2 1278.9 505.9C1278.9 515.5 1276.7 525.1 1273.1 532.9C1269.5 540.6 1264.4 546.6 1257.3 552.2C1250.2 557.7 1239.3 563.7 1230.3 566C1221.3 568.4 1212 567.6 1203.3 566C1194.6 564.4 1185.6 561.2 1178.2 556.4C1170.8 551.6 1163.8 544.9 1158.9 537.1C1154 529.3 1151.2 520.1 1148.9 509.7C1146.6 499.4 1145.4 485.9 1145 475C1144.7 464.1 1145.4 453.8 1147 444.1C1148.6 434.5 1150.5 425.8 1154.7 417.1C1158.9 408.5 1165.9 398.6 1172 392.1C1178.2 385.6 1185.2 381.7 1191.7 378.2C1198.2 374.7 1203.3 371.5 1211 370.9Z" fill="#3d7d6d" opacity="0.35" filter="url(#b4)" transform="translate(2 3)"/>
<path d="M1211 370.9C1218.7 370.2 1229.6 371.1 1238 374.3C1246.4 377.5 1255 383 1261.1 390.1C1267.3 397.3 1274.2 407.5 1275 417.1C1275.8 426.8 1266.3 438.4 1266 448C1265.6 457.6 1271 465.4 1273.1 475C1275.3 484.6 1278.9 496.2 1278.9 505.9C1278.9 515.5 1276.7 525.1 1273.1 532.9C1269.5 540.6 1264.4 546.6 1257.3 552.2C1250.2 557.7 1239.3 563.7 1230.3 566C1221.3 568.4 1212 567.6 1203.3 566C1194.6 564.4 1185.6 561.2 1178.2 556.4C1170.8 551.6 1163.8 544.9 1158.9 537.1C1154 529.3 1151.2 520.1 1148.9 509.7C1146.6 499.4 1145.4 485.9 1145 475C1144.7 464.1 1145.4 453.8 1147 444.1C1148.6 434.5 1150.5 425.8 1154.7 417.1C1158.9 408.5 1165.9 398.6 1172 392.1C1178.2 385.6 1185.2 381.7 1191.7 378.2C1198.2 374.7 1203.3 371.5 1211 370.9Z" fill="#643431" filter="url(#b1)"/>
<path d="M1193.6 377.8C1194.2 376.8 1205.1 371.3 1211 370.9C1216.9 370.4 1231.3 371.8 1238 374.3C1244.7 376.9 1256.2 384.4 1261.1 390.1C1266.1 395.9 1273.6 411.5 1275 417.1C1276.4 422.8 1273 428.5 1271.8 432.6C1270.5 436.7 1267.1 446.5 1266 448C1264.8 449.5 1264 448.3 1263.1 444.1C1262.1 440 1261.1 423.6 1258.8 417.1C1256.5 410.7 1250 400.7 1245.7 395.9C1241.4 391.2 1231.6 383.8 1226.4 381.5C1221.3 379.2 1211.5 379.1 1207.1 378.6C1202.8 378.1 1193.1 378.8 1193.6 377.8Z" fill="#463b52" filter="url(#b1)"/>
<path d="M1255.4 397.9C1256.3 395.6 1265.6 400.4 1268.9 403.6C1272.1 406.9 1274.7 413.6 1275 417.1C1275.4 420.7 1272.8 424.9 1270.8 424.9C1268.8 424.9 1265.6 421.6 1263.1 417.1C1260.5 412.6 1254.4 400.1 1255.4 397.9Z" fill="#b9b2c2" opacity="0.8" filter="url(#b2)"/>
<path d="M1153.1 523.2C1154.8 523.9 1162.8 538.6 1168.6 544.4C1174.4 550.2 1180.8 554.6 1187.9 557.9C1194.9 561.3 1207.8 563.1 1211 564.7C1214.2 566.3 1212.3 568.4 1207.1 567.6C1202 566.8 1188.2 564.4 1180.1 559.9C1172.1 555.4 1163.4 546.7 1158.9 540.6C1154.4 534.5 1151.5 522.6 1153.1 523.2Z" fill="#e6dcc8" filter="url(#b2)"/>
<clipPath id="csB"><path d="M1207.1 378.6C1212.9 378.3 1220 378.6 1226.4 381.5C1232.9 384.4 1240.4 390 1245.7 395.9C1251 401.9 1255.4 409.1 1258.3 417.1C1261.1 425.2 1261.1 434.5 1263.1 444.1C1265.1 453.8 1268.3 464.7 1270.4 475C1272.5 485.3 1275.6 496.5 1275.6 505.9C1275.6 515.2 1273.8 523.7 1270.4 530.9C1267 538.2 1262 544.1 1255.4 549.3C1248.7 554.4 1238.6 559.7 1230.3 561.8C1221.9 563.9 1213.4 563.4 1205.2 561.8C1197 560.2 1188.2 556.8 1181.1 552.2C1174 547.5 1167.6 541.2 1162.8 533.8C1158 526.4 1154.6 517.6 1152.2 507.8C1149.8 498 1148.6 485.5 1148.3 475C1148 464.6 1148.6 454.4 1150.3 445.1C1151.9 435.8 1153.9 427.4 1158 419.1C1162 410.7 1169.1 400.9 1174.7 395C1180.4 389 1186.3 386.1 1191.7 383.4C1197.1 380.7 1201.4 378.9 1207.1 378.6Z"/></clipPath>
<path d="M1207.1 378.6C1212.9 378.3 1220 378.6 1226.4 381.5C1232.9 384.4 1240.4 390 1245.7 395.9C1251 401.9 1255.4 409.1 1258.3 417.1C1261.1 425.2 1261.1 434.5 1263.1 444.1C1265.1 453.8 1268.3 464.7 1270.4 475C1272.5 485.3 1275.6 496.5 1275.6 505.9C1275.6 515.2 1273.8 523.7 1270.4 530.9C1267 538.2 1262 544.1 1255.4 549.3C1248.7 554.4 1238.6 559.7 1230.3 561.8C1221.9 563.9 1213.4 563.4 1205.2 561.8C1197 560.2 1188.2 556.8 1181.1 552.2C1174 547.5 1167.6 541.2 1162.8 533.8C1158 526.4 1154.6 517.6 1152.2 507.8C1149.8 498 1148.6 485.5 1148.3 475C1148 464.6 1148.6 454.4 1150.3 445.1C1151.9 435.8 1153.9 427.4 1158 419.1C1162 410.7 1169.1 400.9 1174.7 395C1180.4 389 1186.3 386.1 1191.7 383.4C1197.1 380.7 1201.4 378.9 1207.1 378.6Z" fill="#643431" filter="url(#b1)"/>
<g clip-path="url(#csB)">
<ellipse cx="1193.6" cy="403.6" rx="38" ry="22" fill="#5e302d" opacity="0.8" filter="url(#b4)"/>
<path d="M1193.6 424.9C1196.2 420.4 1202.3 417.1 1203.3 421C1204.3 424.9 1200.7 439 1199.4 448C1198.1 457 1195.6 467.3 1195.6 475C1195.6 482.7 1199.8 490.8 1199.4 494.3C1199.1 497.8 1195.6 499.4 1193.6 496.2C1191.7 493 1190.4 480.5 1187.9 475C1185.3 469.5 1178.2 467.9 1178.2 463.4C1178.2 458.9 1185.3 454.4 1187.9 448C1190.4 441.6 1191.1 429.4 1193.6 424.9Z" fill="#3a1a1a" opacity="0.75" filter="url(#b2)"/>
<path d="M1203.3 417.1C1207.5 413.3 1216.8 417.8 1222.6 421C1228.4 424.2 1234.1 430 1238 436.4C1241.9 442.9 1245.7 452.5 1245.7 459.6C1245.7 466.6 1242.5 473.4 1238 478.9C1233.5 484.3 1224.5 489.8 1218.7 492.4C1212.9 494.9 1207 497.2 1203.3 494.3C1199.6 491.4 1197.5 483.4 1196.5 475C1195.6 466.6 1196.4 453.8 1197.5 444.1C1198.6 434.5 1199.1 421 1203.3 417.1Z" fill="#5f302c" opacity="0.8" filter="url(#b2)"/>
<path d="M1187.9 546.4C1190.8 544.1 1203.3 545.4 1211 544.4C1218.7 543.5 1229.6 539.3 1234.1 540.6C1238.6 541.9 1241.2 548.6 1238 552.2C1234.8 555.7 1222.3 560.8 1214.9 561.8C1207.5 562.8 1198.1 560.5 1193.6 557.9C1189.1 555.4 1185 548.6 1187.9 546.4Z" fill="#7a4a40" opacity="0.7" filter="url(#b2)"/>
<rect x="1140" y="370" width="150" height="200" filter="url(#mot)" opacity="0.7"/>
<rect x="1140" y="370" width="150" height="200" filter="url(#nzR)" opacity="0.25"/>
</g>
<path d="M1162.8 511.6C1164.1 509.1 1168.9 508.4 1172.4 509.7C1176 511 1179.5 517.4 1184 519.4C1188.5 521.3 1195.9 522.1 1199.4 521.3C1203 520.5 1203.3 515.5 1205.2 514.5C1207.1 513.6 1209.4 517 1211 515.5C1212.6 514.1 1212.3 506.8 1214.9 505.9C1217.4 504.9 1223.2 507.5 1226.4 509.7C1229.6 512 1231.5 516.5 1234.1 519.4C1236.8 522.3 1242.2 524.5 1242.2 527.1C1242.2 529.6 1237.7 532.4 1234.1 534.8C1230.5 537.2 1223.9 540.9 1220.6 541.5C1217.4 542.2 1217.1 538 1214.9 538.6C1212.6 539.3 1210 544.2 1207.1 545.4C1204.3 546.6 1200.1 547.3 1197.5 546C1194.9 544.7 1194.6 538.6 1191.7 537.7C1188.8 536.8 1183.7 540.7 1180.1 540.6C1176.6 540.4 1173.1 539.3 1170.5 536.7C1167.9 534.1 1166 529.3 1164.7 525.1C1163.4 521 1161.5 514.2 1162.8 511.6Z" fill="#84504a" opacity="0.9" filter="url(#b2)"/>
<path d="M1162.8 511.6C1163.8 509.6 1169.6 508.7 1172.4 509.7C1175.3 510.7 1180.4 517.8 1184 519.4C1187.6 520.9 1196.6 521.9 1199.4 521.3C1202.3 520.6 1203.7 515.3 1205.2 514.5C1206.8 513.8 1209.7 516.7 1211 515.5C1212.3 514.3 1212.8 506.6 1214.9 505.9C1216.9 505.1 1223.9 507.9 1226.4 509.7C1229 511.5 1232 517 1234.1 519.4C1236.3 521.7 1242.2 525 1242.2 527.1C1242.2 529.1 1237 532.9 1234.1 534.8C1231.3 536.7 1223.2 541 1220.6 541.5C1218.1 542.1 1216.7 538.1 1214.9 538.6C1213.1 539.2 1209.5 544.4 1207.1 545.4C1204.8 546.4 1199.6 547 1197.5 546C1195.4 545 1194 538.4 1191.7 537.7C1189.4 537 1183 540.7 1180.1 540.6C1177.3 540.5 1172.6 538.8 1170.5 536.7C1168.4 534.7 1165.7 528.5 1164.7 525.1C1163.7 521.8 1161.8 513.7 1162.8 511.6Z" fill="none" stroke="#fff" stroke-width="2.5" stroke-dasharray="6.4 2.6" stroke-linejoin="round"/>
<path d="M1342.2 397.9C1348.3 396.7 1356 397.9 1361.4 398.8C1366.9 399.8 1371.4 400.6 1374.9 403.6C1378.5 406.7 1381.8 412.3 1382.7 417.1C1383.5 422 1380.7 428.7 1379.8 432.6C1378.8 436.4 1376.1 436.4 1376.9 440.3C1377.7 444.1 1382.8 450.3 1384.6 455.7C1386.3 461.2 1388.1 466.6 1387.5 473.1C1386.8 479.5 1383.8 487.5 1380.7 494.3C1377.7 501 1374 507.8 1369.2 513.6C1364.3 519.4 1359.2 526.9 1351.8 529C1344.4 531.1 1333.2 529 1324.8 526.1C1316.4 523.2 1307.6 517.6 1301.6 511.6C1295.7 505.7 1291.4 497.8 1289.1 490.4C1286.8 483 1287 475 1287.8 467.3C1288.6 459.6 1290.3 451.9 1293.9 444.1C1297.5 436.4 1304.2 427.4 1309.4 421C1314.5 414.6 1319.3 409.4 1324.8 405.6C1330.3 401.7 1336 399 1342.2 397.9Z" fill="#3d7d6d" opacity="0.35" filter="url(#b4)" transform="translate(2 3)"/>
<path d="M1342.2 397.9C1348.3 396.7 1356 397.9 1361.4 398.8C1366.9 399.8 1371.4 400.6 1374.9 403.6C1378.5 406.7 1381.8 412.3 1382.7 417.1C1383.5 422 1380.7 428.7 1379.8 432.6C1378.8 436.4 1376.1 436.4 1376.9 440.3C1377.7 444.1 1382.8 450.3 1384.6 455.7C1386.3 461.2 1388.1 466.6 1387.5 473.1C1386.8 479.5 1383.8 487.5 1380.7 494.3C1377.7 501 1374 507.8 1369.2 513.6C1364.3 519.4 1359.2 526.9 1351.8 529C1344.4 531.1 1333.2 529 1324.8 526.1C1316.4 523.2 1307.6 517.6 1301.6 511.6C1295.7 505.7 1291.4 497.8 1289.1 490.4C1286.8 483 1287 475 1287.8 467.3C1288.6 459.6 1290.3 451.9 1293.9 444.1C1297.5 436.4 1304.2 427.4 1309.4 421C1314.5 414.6 1319.3 409.4 1324.8 405.6C1330.3 401.7 1336 399 1342.2 397.9Z" fill="#574c64" filter="url(#b1)"/>
<path d="M1357.6 403.6C1358.9 401.1 1371.1 402.7 1374.9 405.6C1378.8 408.5 1380.4 416.5 1380.7 421C1381 425.5 1379.1 432.6 1376.9 432.6C1374.6 432.6 1370.4 425.8 1367.2 421C1364 416.2 1356.3 406.2 1357.6 403.6Z" fill="#362d45" opacity="0.85" filter="url(#b2)"/>
<path d="M1369.2 407.5C1370 406.5 1374.9 409.1 1375.9 411.4C1376.9 413.6 1375.7 420 1374.9 421C1374.1 422 1372 419.4 1371.1 417.1C1370.1 414.9 1368.3 408.5 1369.2 407.5Z" fill="#b3acc0" opacity="0.7" filter="url(#b1)"/>
<path d="M1297.8 502C1297.1 503.3 1307.8 515.3 1315.1 519.4C1322.5 523.4 1334.1 526.1 1342.2 526.1C1350.2 526.1 1362.7 520.6 1363.4 519.4C1364 518.1 1353.4 519.7 1346 518.4C1338.6 517.1 1327 514.4 1319 511.6C1311 508.9 1298.4 500.7 1297.8 502Z" fill="#cfc6c4" opacity="0.85" filter="url(#b2)"/>
<path d="M1334.4 417.1C1339.6 416.8 1346.3 418.4 1351.8 421C1357.3 423.6 1363 427.4 1367.2 432.6C1371.4 437.7 1374.9 445.4 1376.9 451.9C1378.8 458.3 1379.8 464.1 1378.8 471.1C1377.8 478.2 1374.6 487.9 1371.1 494.3C1367.5 500.7 1362.7 506.5 1357.6 509.7C1352.4 512.9 1346.3 513.9 1340.2 513.6C1334.1 513.3 1326.7 511 1320.9 507.8C1315.1 504.6 1309.2 499.8 1305.5 494.3C1301.8 488.8 1299.7 481.4 1298.8 475C1297.8 468.6 1298.3 462.1 1299.7 455.7C1301.2 449.3 1303.9 441.9 1307.4 436.4C1311 431 1316.4 426.1 1320.9 422.9C1325.4 419.7 1329.3 417.5 1334.4 417.1Z" fill="#663633" filter="url(#b1)"/>
<path d="M1340.2 453.8C1341.2 449.6 1348.3 449 1351.8 449.9C1355.3 450.9 1360.5 455.7 1361.4 459.6C1362.4 463.4 1360.2 470.5 1357.6 473.1C1355 475.6 1348.9 478.2 1346 475C1343.1 471.8 1339.3 458 1340.2 453.8Z" fill="#8b6356" opacity="0.8" filter="url(#b2)"/>
<path d="M1309.4 482.7C1311 479.5 1314.2 476.3 1319 475C1323.8 473.7 1333.6 473.6 1338.3 475C1343 476.5 1343.8 483.7 1347 483.7C1350.2 483.7 1353.6 477.1 1357.6 475C1361.6 472.9 1367.2 471.2 1371.1 471.1C1374.9 471.1 1378.8 472 1380.7 474.6C1382.7 477.2 1383.6 482.3 1382.7 486.6C1381.7 490.8 1378.5 495.6 1374.9 500.1C1371.4 504.6 1366.3 510.9 1361.4 513.6C1356.6 516.2 1351.2 516.8 1346 515.9C1340.9 515 1335.7 510.2 1330.6 508.2C1325.4 506.2 1318.7 506.2 1315.1 503.9C1311.6 501.6 1310.3 497.8 1309.4 494.3C1308.4 490.8 1307.8 485.9 1309.4 482.7Z" fill="#80504a" opacity="0.9" filter="url(#b2)"/>
<path d="M1309.4 482.7C1310.6 480.1 1315.1 476 1319 475C1322.9 474 1334.6 473.8 1338.3 475C1342 476.2 1344.4 483.7 1347 483.7C1349.5 483.7 1354.4 476.7 1357.6 475C1360.8 473.3 1368 471.2 1371.1 471.1C1374.2 471.1 1379.2 472.6 1380.7 474.6C1382.3 476.7 1383.4 483.2 1382.7 486.6C1381.9 490 1377.8 496.5 1374.9 500.1C1372.1 503.7 1365.3 511.5 1361.4 513.6C1357.6 515.7 1350.1 516.6 1346 515.9C1341.9 515.2 1334.7 509.8 1330.6 508.2C1326.5 506.6 1318 505.8 1315.1 503.9C1312.3 502.1 1310.1 497.1 1309.4 494.3C1308.6 491.5 1308.1 485.3 1309.4 482.7Z" fill="none" stroke="#fff" stroke-width="2.5" stroke-dasharray="6.4 2.6" stroke-linejoin="round"/>
<rect x="966.8" y="349.6" width="425.6" height="260.8" filter="url(#grain)" opacity="0.08"/>
</g>
<rect x="966.8" y="349.6" width="425.6" height="260.8" fill="none" stroke="#262626" stroke-width="1.2"/>
</svg></body></html>
